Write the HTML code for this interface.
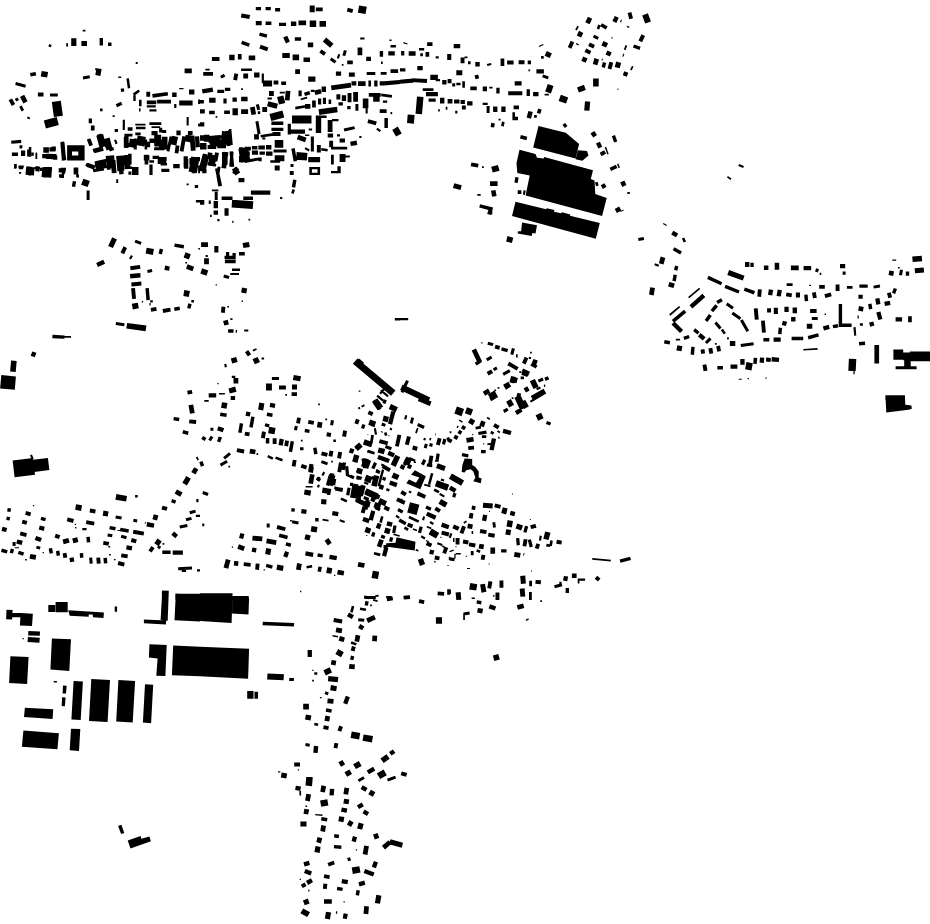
<!DOCTYPE html>
<html><head><meta charset="utf-8">
<style>html,body{margin:0;padding:0;background:#fff}svg{display:block}</style></head>
<body><svg width="930" height="924" viewBox="0 0 930 924"><rect width="930" height="924" fill="#fff"/>
<path fill="#000" d="M419.5 396.7 431.6 401.5 429.8 405.9 417.8 401.1Z
M372.3 401.2 377 398.5 378.6 401.4 373.9 404.1Z
M374.8 405.3 377.3 403.2 381.5 408.2 379 410.2Z
M383.8 399.2 386.8 400.3 385.5 404 382.4 402.9Z
M391 404.1 397.9 407.3 395.6 412.2 388.7 409Z
M361.1 405.9 363.9 404.3 364.9 406 362.1 407.6Z
M357.9 407.8 359.6 406.8 360.5 408.5 358.8 409.4Z
M369.2 410.4 373.5 412.4 371.9 416 367.6 414Z
M391.3 411 395.4 412.1 392.1 424.7 387.9 423.6Z
M383.8 415.6 389 417 387.6 422.3 382.4 420.9Z
M382.2 422.6 385.9 423.9 384.9 426.8 381.2 425.4Z
M390.3 427.6 392.3 428.4 391.6 430.4 389.5 429.7Z
M356 418.7 359.7 420.1 358.1 424.5 354.4 423.2Z
M362.4 423.9 365.5 425 364 429.1 360.9 428Z
M370.2 420.3 374.9 422 374.2 424.1 369.5 422.4Z
M371 424.2 375.1 425.7 374.5 427.3 370.4 425.8Z
M373.8 428.4 375.9 428 377.1 434.4 374.9 434.8Z
M381.1 431.1 383.1 431.9 382.8 432.7 380.8 432Z
M383.9 433 386.4 432.1 387.5 435.2 385 436.1Z
M388.4 435.2 389.5 435.2 389.5 436.3 388.4 436.3Z
M405.3 414.9 407.3 415.5 406.2 419.7 404.1 419.1Z
M411.3 417.3 414 418 412.5 423.9 409.8 423.1Z
M418.3 423 424.8 426 423.4 429 417 425.9Z
M417 427.7 418.6 428.3 416.8 433.4 415.1 432.8Z
M435.2 433.3 435.8 433.3 435.8 435.5 435.2 435.5Z
M397.5 434.4 401.3 435.2 398.8 446.8 395 446Z
M407.1 435.9 410.9 436.9 408.7 445.3 404.9 444.3Z
M413.2 445.5 417.8 446.7 416.7 450.9 412.1 449.6Z
M423.9 437.7 426 438.3 425.4 440.6 423.3 440Z
M429.8 437.8 431.4 438.3 430.8 440.6 429.2 440.1Z
M424.9 443.5 427.8 444.3 426.7 448.5 423.7 447.7Z
M429.8 442.9 432.9 443.8 432.1 446.9 429 446.1Z
M437.8 437.7 441.6 438.7 439.7 445.6 435.9 444.6Z
M443.3 438.6 446.4 439.5 445 444.7 441.9 443.9Z
M446.3 438 449.2 436.9 450.6 441 447.8 442.1Z
M371.2 435 373.4 435.4 372.1 442.9 369.9 442.5Z
M367.4 434.2 368.3 434.2 368.3 435.1 367.4 435.1Z
M364.7 442.1 371.9 444.7 371 447.1 363.9 444.5Z
M358.6 442.9 361.3 444.8 357.6 450.1 354.9 448.3Z
M350.4 447.9 354.5 449.4 352.8 453.8 348.8 452.4Z
M379.9 439.2 388.2 441.4 387.2 445.2 378.9 443Z
M385.9 445 392 447.2 390.9 450.3 384.8 448Z
M378.9 447.4 385.2 449.1 383.8 454.3 377.5 452.6Z
M368.5 449.7 374.6 452 373.7 454.6 367.6 452.4Z
M389.1 450.8 395 453.5 393.2 457.4 387.3 454.7Z
M379 455.1 389.2 458.8 388.1 461.8 377.9 458.1Z
M395.3 454.8 400.2 457.1 395.6 466.9 390.7 464.6Z
M354.4 455.3 358.1 456.4 356.5 462.6 352.7 461.6Z
M361.4 458.7 364 458.3 365.7 467.9 363.1 468.3Z
M368.2 459.5 370.1 460.4 366.5 468.2 364.5 467.3Z
M374.6 462.5 376.8 463.8 374.1 468.5 371.9 467.2Z
M381.6 463.5 384.1 464.4 383.3 466.4 380.9 465.5Z
M383.1 465 390.6 469.3 389.4 471.4 381.9 467Z
M357.4 467.9 362.5 469.8 361 473.8 355.9 472Z
M376.5 469.1 379.6 470.2 378.7 472.7 375.6 471.6Z
M381.9 469.3 384.2 469.9 379.8 486.6 377.5 486Z
M350.8 474.5 354.7 476.4 353.6 478.7 349.7 476.9Z
M357 476.2 360.1 477 359.3 480.1 356.1 479.3Z
M361.5 476.9 362.3 476.9 362.3 477.8 361.5 477.8Z
M366.7 475.7 370.8 477.2 369 482.3 364.9 480.8Z
M372.3 476.1 375.3 477.2 374.2 480.2 371.2 479.1Z
M383.1 476.7 386.2 477.8 385.1 480.9 382 479.8Z
M375.3 482 377.8 482.7 376.7 486.8 374.2 486.2Z
M380.1 484.3 384.2 485.8 382.7 489.9 378.6 488.4Z
M386.8 488.1 389.8 489.2 389 491.6 385.9 490.5Z
M393.7 472.5 399.5 475.2 397.3 480.1 391.4 477.4Z
M390.5 480.5 397.6 483.1 396.1 487.2 389 484.6Z
M406.6 456.5 409.6 457.9 405.9 465.8 403 464.4Z
M409.8 457 415.7 459.7 414.6 462.1 408.7 459.3Z
M413.9 461.5 416 461.5 416 463 413.9 463Z
M401.4 464.2 405.4 466.1 403.5 470 399.6 468.1Z
M408.7 463.8 412.2 465.4 410.4 469.3 406.8 467.7Z
M423.3 459.1 426.2 460.5 423.9 465.4 421 464Z
M429.6 455.5 433.4 456.1 431.7 465.7 427.9 465.1Z
M427.1 463.6 432.5 464.6 432 467.3 426.6 466.4Z
M436.6 453.3 439.8 453.9 438.7 460.3 435.5 459.7Z
M435 460.1 438.7 460.1 438.7 461.7 435 461.7Z
M437.7 463.3 445.8 466.2 444.1 470.9 436 468Z
M414.9 470.3 425.8 476.3 420.3 489.3 406.3 483.3 409 479.5 416 482.8 419.3 477.4 411.1 474.7Z
M430.9 472.9 433.4 473.6 430.3 485.1 427.8 484.4Z
M424.5 483.8 430.7 485.5 430.3 487.2 424 485.5Z
M441.2 478.6 444.4 479.5 443.8 481.6 440.7 480.7Z
M436.6 481.2 448.8 485.7 447.4 489.8 435.1 485.3Z
M434.7 488.6 439.6 490.9 438.5 493.2 433.6 490.9Z
M440.2 492.9 444.9 495.7 443.8 497.5 439.1 494.8Z
M418.3 491.6 426.2 495.3 424.5 498.8 416.7 495.2Z
M402.2 490.3 406.9 493 404.9 496.3 400.3 493.6Z
M409.5 490.4 411.7 491.7 410.6 493.6 408.4 492.3Z
M398.2 498.7 402.5 498.7 402.5 500 398.2 500Z
M353.7 483.5 357.5 484.5 356.1 489.7 352.3 488.7Z
M352.3 489.1 355.5 489.6 354.2 497.1 351 496.5Z
M360.4 485.2 363.5 486.1 361.3 494.4 358.1 493.6Z
M366.5 488.6 370.4 490.5 368.1 495.4 364.2 493.5Z
M371.4 490.6 376.3 492.8 374 497.8 369.1 495.5Z
M375.5 493.2 380.4 495.5 378.6 499.4 373.7 497.1Z
M355.1 494.2 361.2 496.4 360.1 499.5 354 497.3Z
M364.2 496.1 369.3 498 368.3 500.8 363.2 499Z
M350 482.8 353.2 482.8 353.2 486 350 486Z
M364.6 481.6 368.6 483.1 367.9 485.1 363.8 483.6Z
M357.3 498.1 366.2 502.3 364.3 506.2 355.5 502.1Z
M367.5 501.3 370.7 502.1 369.3 507.4 366.1 506.5Z
M362.5 506.1 366.3 507.1 364.6 513.4 360.8 512.4Z
M371.1 511 374.9 512 373.2 518.3 369.5 517.2Z
M363.9 516.9 370 519.1 368.5 523.2 362.4 520.9Z
M380.2 498.1 387 501.3 384.8 506.2 377.9 503Z
M375.8 506 380.7 508.3 379.4 511.3 374.5 509Z
M385.2 505.5 390.1 507.8 388.4 511.4 383.5 509.1Z
M381 516 383.5 516.7 381.8 523 379.3 522.3Z
M377.6 522.7 381.6 524.2 379.8 529.3 375.7 527.8Z
M366.2 526.8 371.3 528.7 369.5 533.8 364.4 531.9Z
M372.5 531.8 375.5 532.9 374.1 537 371 535.9Z
M366.2 535.1 367.3 535.1 367.3 535.9 366.2 535.9Z
M387.4 521.2 392.7 522.6 391.6 526.8 386.3 525.4Z
M385.4 527.5 390.7 528.9 389.3 534.2 384 532.8Z
M393.4 525.2 396.6 525.8 395.3 533.2 392.1 532.7Z
M381.7 534.6 385.4 535.9 384.3 539 380.6 537.7Z
M393.6 533.6 399.9 535.3 399.5 536.7 393.2 535.1Z
M390.1 537 393.3 537.8 392.1 542 389 541.2Z
M379.4 538.9 383.8 540.5 381.2 547.7 376.8 546Z
M383.5 544.9 387.9 544.9 387.9 548.2 383.5 548.2Z
M384.2 547.2 388.4 548.3 386.1 556.7 382 555.6Z
M374.3 551.9 380.6 553.6 379.8 556.3 373.6 554.6Z
M396.5 537.3 415.5 541.7 414.7 550.6 385.7 546.5 386.3 543.3 395.5 542.7Z
M416.1 549 418.7 550 418.1 551.6 415.5 550.7Z
M397.8 497.5 405.6 501.1 404 504.7 396.1 501Z
M410 502.2 419.4 504.7 416.6 515.1 407.2 512.6Z
M398.8 508.1 403.5 510.8 401.9 513.6 397.2 510.9Z
M396.6 514.8 399.8 517 398.6 518.8 395.4 516.5Z
M409.5 515.8 419.3 520.4 418.2 522.7 408.4 518.2Z
M400 518.6 406.6 522.3 405 525.2 398.4 521.4Z
M408.2 522.7 413.3 524.5 411.9 528.2 406.9 526.3Z
M405.1 526.5 408.8 528.6 407.5 530.9 403.8 528.7Z
M413.2 528.2 417.3 529.7 416.7 531.3 412.6 529.8Z
M419.6 526.2 422.8 527 421.1 533.3 417.9 532.5Z
M423.1 516.2 425.1 516.8 424.1 520.6 422 520Z
M421.7 535.3 425.5 537.5 424.4 539.4 420.6 537.2Z
M426.1 539.9 429.1 541.3 428.6 542.3 425.7 540.9Z
M427.4 541.5 432.3 543.8 430.6 547.3 425.7 545Z
M426.7 505.5 431.6 507.8 430.2 510.7 425.3 508.4Z
M436.3 506.7 441 509.4 439 512.8 434.3 510.1Z
M441.1 499 447.7 502.8 445 507.5 438.4 503.7Z
M427.7 511.7 436.5 515.8 434.7 519.7 425.8 515.6Z
M430.6 521 434 523 432.8 525.1 429.4 523.1Z
M427.1 526 431.5 527.6 430.9 529.2 426.5 527.6Z
M431.7 528.6 439.2 532.9 436 538.5 428.5 534.2Z
M442.4 522.6 449.5 525.2 448.1 529.3 440.9 526.7Z
M442.1 530.7 449.4 532.6 448.4 536.4 441.1 534.5Z
M440.4 536.8 441.5 536.8 441.5 537.9 440.4 537.9Z
M437.7 542.2 442.7 544.1 442 546.1 436.9 544.2Z
M444.5 546.6 448.2 547.9 446 554 442.3 552.7Z
M442.7 545.3 446.4 547.5 445.7 548.8 441.9 546.7Z
M430.2 549.5 434.4 550.6 433.2 554.8 429.1 553.7Z
M435.1 555.6 439.8 556.4 439.1 560.2 434.4 559.4Z
M434.2 561.1 435.7 561.1 435.7 562.4 434.2 562.4Z
M448.8 556.8 450.3 556.8 450.3 560.1 448.8 560.1Z
M447.4 564.9 448.7 564.9 448.7 566 447.4 566Z
M417.8 559.8 422.9 557.9 425.1 564 420 565.9Z
M437.8 591.4 444.3 592 444 595.8 437.5 595.3Z
M447.2 589.3 450 589.3 450 594.7 447.2 594.7Z
M403.4 595.7 409.9 595.2 410.2 599.1 403.8 599.6Z
M375.3 595.3 378.5 594.8 378.8 596.2 375.6 596.8Z
M506.1 401.8 510.8 399.1 514 404.7 509.3 407.4Z
M502.9 410.1 507 407.7 508.6 410.5 504.5 412.9Z
M520.4 402.4 525.1 399.7 528.9 406.3 524.2 409Z
M514.8 411.1 520.5 407.9 522.6 411.6 517 414.9Z
M529.8 400.7 533.6 398.5 534.7 400.4 530.9 402.6Z
M535.6 415.3 541.1 412.7 543.6 418.2 538.1 420.8Z
M547 421 551.1 422.5 550 425.5 545.9 424.1Z
M456.9 406.5 464.1 409.1 461.5 416.2 454.3 413.6Z
M467 407.2 473.1 409.4 470.9 415.5 464.8 413.3Z
M459.5 419.5 462.9 421.4 462.1 422.7 458.8 420.8Z
M487.6 416.8 490.2 418.6 489.3 420 486.6 418.2Z
M470.7 417.9 475.3 420.7 472.6 425.3 467.9 422.6Z
M481.2 420.5 485.6 422.1 483.8 427.2 479.3 425.5Z
M475.4 426.7 480.8 425.7 481.3 428.5 475.9 429.5Z
M495 423.3 499.6 426 497.7 429.3 493 426.6Z
M462.8 424.9 466.2 426.9 464.2 430.3 460.9 428.3Z
M457.5 425.5 458.8 426.3 457.7 428.2 456.4 427.4Z
M459.4 429.7 462.4 431.4 460.5 434.8 457.5 433.1Z
M455.2 434.7 458.6 436.6 456.7 440 453.3 438.1Z
M449.7 431.2 451.4 431.2 451.4 433.3 449.7 433.3Z
M450.4 438.6 452.6 439.9 450.7 443.2 448.4 441.9Z
M478.1 431.9 486.2 430.5 486.8 433.7 478.7 435.1Z
M481.9 435.2 486.3 435.2 486.3 438 481.9 438Z
M491.5 430.8 494.3 432.4 492.9 434.8 490.1 433.2Z
M497.9 430.3 500.4 431.7 499.5 433.2 497 431.8Z
M497.9 436.9 499.2 436.4 499.9 438.5 498.7 438.9Z
M503.6 428.8 511.6 430.9 510.4 435.1 502.5 433Z
M466.1 438.1 473.1 436.9 474 441.6 466.9 442.8Z
M472.2 434 473.3 434 473.3 435.3 472.2 435.3Z
M468 446.3 473.8 445.7 474.2 449.6 468.4 450.1Z
M483.2 443.3 484.3 443.3 484.3 444.4 483.2 444.4Z
M491.9 438.1 496.1 439 493.6 450.6 489.4 449.7Z
M487.2 443.6 494.7 442.3 495 444 487.5 445.3Z
M481 450 485.7 450 485.7 453.2 481 453.2Z
M462.2 453 468.6 454.2 468.1 457.4 461.7 456.2Z
M464.6 458.4 472.2 459 472.2 464.9 475.4 467.1 478.7 471.4 478.7 477.4 481.6 478.5 480.8 483.3 473.3 481.2 475.4 477.4 473.3 471.4 470.6 469.3 466.2 470.3 464.6 472.5 461.7 472 462.4 464.9Z
M451.9 473.4 464.1 480.4 461.1 485.7 448.9 478.7Z
M451 485.8 456.6 489 454.4 492.8 448.8 489.5Z
M453.5 492.6 456.6 493.8 455.1 497.8 452.1 496.7Z
M511.9 493.4 513 493.4 513 494.5 511.9 494.5Z
M472.1 505.6 475.7 506.2 475.1 510 471.4 509.4Z
M483.2 502.7 492.9 503.6 492.5 508.5 482.8 507.7Z
M495.2 503.5 501.1 505.1 500 508.8 494.2 507.3Z
M502.8 507.3 507.6 508.5 506.1 514.4 501.2 513.1Z
M510.8 510.8 515.4 512.1 514.3 516.2 509.7 515Z
M489 510.8 490 510.8 490 511.9 489 511.9Z
M469.7 512.7 473.5 513.4 472.6 518.7 468.7 518Z
M483 514.5 487.3 515.2 486.2 521.2 482 520.5Z
M463.3 522.2 466.1 520.6 467 522.1 464.2 523.7Z
M468 523.5 472.9 524.4 472.1 529.1 467.2 528.2Z
M492.3 522.5 495.1 522 496 527.3 493.2 527.8Z
M507.6 520.1 513 521.1 511.8 527.5 506.5 526.5Z
M454.1 524.4 459.6 526.9 457.8 530.8 452.3 528.3Z
M462.2 525.5 465.9 526.9 463.3 534 459.6 532.7Z
M471.6 531.1 473.2 531.1 473.2 533.9 471.6 533.9Z
M480.4 529.1 486.8 530.2 486.1 534.1 479.7 533Z
M488.6 532.7 495 533.8 494.3 537.7 487.9 536.5Z
M506.2 529.2 511.1 530 510.2 535.3 505.3 534.5Z
M517.3 523.5 523 525.6 521.2 530.6 515.5 528.6Z
M525 525.7 528.2 526.5 526.5 532.8 523.3 531.9Z
M530.2 525.3 535.4 523.9 536.5 527.7 531.2 529.1Z
M529.8 518.9 530.8 518.9 530.8 520 529.8 520Z
M545.2 531.4 550.5 532.8 548.5 540.1 543.3 538.7Z
M539.7 535.6 541.9 535.9 541 540.8 538.9 540.5Z
M546.6 543.8 550.4 544.5 550 547.1 546.1 546.4Z
M536.5 543.3 540.1 544.6 538.4 549.3 534.8 548Z
M516 538.3 519.3 538 519.9 545.1 516.7 545.4Z
M523.7 538.9 527.5 539.6 526.3 546.6 522.5 545.9Z
M527.8 540.1 530.9 539.2 532.9 546.5 529.7 547.4Z
M450.3 533.1 452.4 533.8 450.7 538.3 448.7 537.6Z
M453 538.1 454.5 538.1 454.5 542 453 542Z
M455.6 537.9 459.5 537.9 459.5 544.4 455.6 544.4Z
M455.4 546.2 456.5 546.2 456.5 547.3 455.4 547.3Z
M463.4 539.6 468.7 540.5 468 544.4 462.7 543.4Z
M469.3 542.4 475.7 543.6 475 547.4 468.7 546.3Z
M479.5 543.8 484.1 544.6 483.3 549.3 478.6 548.5Z
M490.4 547.6 495.1 547.6 495.1 553.7 490.4 553.7Z
M501.1 549.2 506.5 549.2 506.5 552.5 501.1 552.5Z
M514.7 552 520.7 553.1 519.9 557.7 513.9 556.7Z
M523.7 553 524.6 553.2 523.9 555.7 523.1 555.5Z
M449.3 550.9 453.4 549.4 453.9 550.8 449.8 552.3Z
M455.6 553 460.8 553 460.8 554.5 455.6 554.5Z
M454.3 554.1 455.6 554.1 455.6 558.4 454.3 558.4Z
M450 557.3 454.9 558.1 454.3 561.3 449.4 560.5Z
M470.8 550.9 473.6 550.9 473.6 555.2 470.8 555.2Z
M477 549.2 480.6 550.5 479.7 553 476.1 551.6Z
M465.7 555.8 467 555.8 467 556.7 465.7 556.7Z
M481.5 554.6 485.4 555.2 484.5 560.1 480.7 559.5Z
M488.6 563.5 489.7 563.5 489.7 564.6 488.6 564.6Z
M467 567.9 470 567.9 470 569 467 569Z
M531 570.6 532 570.6 532 571.6 531 571.6Z
M520.2 575.9 525.2 575.4 525.9 583.6 520.9 584.1Z
M529.2 580.8 532 580.8 532 586.3 529.2 586.3Z
M535.7 579.9 541.1 580.3 540.7 584.2 535.3 583.7Z
M519.7 588.7 524.6 588.2 525.3 596.4 520.4 596.8Z
M529 592 531.8 592 531.8 600 529 600Z
M470.3 583 477.3 584.2 476.2 590.6 469.2 589.4Z
M480.1 584.6 485 583.7 486.4 591.8 481.5 592.7Z
M488.5 581.1 492.4 581.8 491.1 588.8 487.3 588.1Z
M499.5 580.6 503.4 580.6 503.4 587.8 499.5 587.8Z
M455.6 592.5 460.6 592.1 461.3 599.7 456.3 600.1Z
M449.8 589.6 450.9 589.6 450.9 593.9 449.8 593.9Z
M471.6 597.4 474.9 597.4 474.9 599.1 471.6 599.1Z
M495.5 592.5 499.4 592.5 499.4 600.1 495.5 600.1Z
M493.3 594.7 494.4 594.7 494.4 596.9 493.3 596.9Z
M538.5 125.9 565.8 132.7 579.1 144.1 575.6 158.5 533.2 147.6Z
M577.9 150.2 587 150.9 588.5 155.5 582.4 160.8 575.6 159.2Z
M519.5 149.7 535.5 153.9 537 157.7 543.8 158.5 544.2 157 593 170.3 590.8 178.9 594.5 180.5 595.3 194.1 606.7 197.9 602.1 216.1 525.6 195.6 529.7 175.5 517.3 172.9 516.5 163Z
M515.5 201.7 546.1 209.2 546.8 208.2 554.4 210 553.9 211.8 561.2 213.3 562 212.3 570.3 214.5 570 215.8 599.8 222.9 595.8 238.8 512 216.1Z
M522.1 222.4 537 225.2 535.5 233.5 532.4 233 531.7 236.1 517.6 233.5 518 231.2 521.1 231.2Z
M507.5 236.1 513.3 237.7 511.9 243 506.1 241.4Z
M515.3 177 518.6 177.6 517.7 183 514.4 182.4Z
M517.7 190.3 521.4 190.3 521.4 193.9 517.7 193.9Z
M523.6 190.2 525.7 190.5 524.9 195 522.8 194.6Z
M520.9 135 527.3 136.7 526.4 140.2 519.9 138.5Z
M562.5 124.8 565.2 122.9 567.5 126.1 564.8 128Z
M590.5 133.6 594.3 131 597 134.9 593.3 137.5Z
M596 143.6 599.9 141.8 602.2 146.7 598.3 148.5Z
M599.7 152.8 604.1 150.2 606.1 153.6 601.6 156.2Z
M604.7 147.3 606.1 146.8 608.7 153.9 607.3 154.4Z
M611.8 136.2 615 135.1 617.3 141.4 614.1 142.5Z
M609.6 167.7 615.9 164.8 617.4 168.1 611.1 171Z
M617 163.9 618.4 163.4 620 167.6 618.6 168.2Z
M595 182.4 597.6 181.7 598.6 185.5 596 186.2Z
M600.7 185.3 604.4 183.2 606.5 186.8 602.9 189Z
M620.2 182.6 624.4 180.6 626.4 185 622.3 186.9Z
M627.4 192 629.8 192 629.8 194.1 627.4 194.1Z
M614.7 209 619.1 206.4 621.4 210.4 616.9 213Z
M620.3 211.3 623.5 209.5 623.9 210.2 620.8 212.1Z
M491.2 166.8 497.9 165 499.5 170.8 492.7 172.6Z
M490 181.2 497.6 181.2 497.6 186.1 490 186.1Z
M491 190.7 495.5 190 496.6 195.9 492.1 196.7Z
M490 208.2 492.3 208.2 492.3 214.5 490 214.5Z
M491.3 122.7 494.9 123.4 494.1 127.6 490.6 126.9Z
M501.9 121.5 504.6 121.9 503.8 126.4 501.1 125.9Z
M512.4 112.3 515 112.3 515 119.8 512.4 119.8Z
M512.4 116.8 518 116.8 518 120.3 512.4 120.3Z
M528.4 110.9 532.8 112.1 531 118.8 526.6 117.6Z
M534.1 115 536.8 115 536.8 117.7 534.1 117.7Z
M538.3 108.5 541.7 109.7 540.2 114 536.8 112.7Z
M21 150.5 25.2 150.5 25.2 156.1 21 156.1Z
M28.8 147 31.3 147 31.3 156.8 28.8 156.8Z
M35.4 153.3 37.3 153.3 37.3 158.9 35.4 158.9Z
M19.6 145.2 22.4 145.2 22.4 148 19.6 148Z
M43.3 147.3 48.9 147.3 48.9 152.8 43.3 152.8Z
M51.7 146.6 55.9 146.6 55.9 150.8 51.7 150.8Z
M46.1 153.8 51.7 153.8 51.7 158.9 46.1 158.9Z
M53.1 155.6 57.3 155.6 57.3 159.8 53.1 159.8Z
M60.3 142.6 64.5 142.2 66.1 160.3 61.9 160.7Z
M67.1 145.2 84.6 145.2 84.6 151.5 67.1 151.5Z
M67.1 155.6 84.6 155.6 84.6 160.5 67.1 160.5Z
M67.1 145.2 72 145.2 72 160.5 67.1 160.5Z
M78.3 145.2 84.6 145.2 84.6 160.5 78.3 160.5Z
M96.3 135.8 103.1 134 106.3 146.1 99.6 147.9Z
M104.2 139.1 109.6 137.6 112.5 148.4 107.1 149.9Z
M93.3 149.3 102.7 146.8 103.8 150.8 94.4 153.3Z
M87.4 139.7 90.5 138.5 92.9 145.1 89.8 146.2Z
M14 164 16.8 164 16.8 168.2 14 168.2Z
M18.9 167.2 23.1 167.2 23.1 169.2 18.9 169.2Z
M26.2 166.5 34.6 167.2 33.9 175.6 25.5 174.8Z
M36.1 166.1 40.2 166.8 39.4 171.8 35.2 171Z
M42.4 167.1 52.1 168 51.3 177.7 41.5 176.9Z
M58.7 168.2 65.7 168.2 65.7 172.4 58.7 172.4Z
M59 174.2 64 174.2 64 177.6 59 177.6Z
M74.1 167.5 78.3 167.5 78.3 174.5 74.1 174.5Z
M76.2 174.8 79 174.8 79 177.6 76.2 177.6Z
M87.6 162.7 95.5 165.6 94.1 169.5 86.2 166.7Z
M94.4 161.6 105.4 159.6 106.9 167.9 95.9 169.8Z
M105.7 156 114.1 155.3 115.2 167.8 106.8 168.6Z
M116.1 156 123 155.4 124.4 170.7 117.4 171.3Z
M124.4 154.9 130 154.9 130 168.9 124.4 168.9Z
M124.4 134 128.6 134 128.6 148 124.4 148Z
M129.9 138.4 135.4 139.4 133.9 147.7 128.4 146.7Z
M137.7 135.4 145.9 136.9 144.2 146.5 136 145.1Z
M145.9 141.7 150.1 141.7 150.1 147.3 145.9 147.3Z
M154.2 134.7 161.2 134.7 161.2 145.9 154.2 145.9Z
M161.9 136.8 167.5 136.8 167.5 149.4 161.9 149.4Z
M203.9 134.7 209.5 134.7 209.5 141.7 203.9 141.7Z
M209 135.9 220.1 134.9 221.1 146 210 147Z
M222 131 227.5 131.5 226.3 145.4 220.7 144.9Z
M228.1 130 231.4 129.7 232.8 145 229.4 145.3Z
M120.7 155.6 130.5 155.6 130.5 165.4 120.7 165.4Z
M143.8 154.9 149.4 154.9 149.4 160.5 143.8 160.5Z
M157.7 157 166.1 157 166.1 164 157.7 164Z
M183.6 156.3 187.8 156.3 187.8 167.5 183.6 167.5Z
M191.3 156.4 199.5 157.9 196.9 173 188.6 171.6Z
M202.7 154.3 209.4 156.1 205.1 172.3 198.3 170.5Z
M209.8 154.4 216.7 155.6 214.7 166.6 207.8 165.4Z
M215 168.8 218.3 168.1 222.1 185.8 218.8 186.5Z
M222 152.1 227.6 152.1 227.6 164.7 222 164.7Z
M229.5 151.6 232.8 151.3 234.2 166.7 230.8 166.9Z
M231.9 169.4 236.7 166.6 240.2 172.6 235.3 175.4Z
M238.4 148.9 248 147.2 250.4 161 240.8 162.7Z
M339 462.2 342.8 462.9 341.1 472.5 337.3 471.8Z
M342.9 462.2 346.1 462.8 344.8 470.3 341.6 469.7Z
M345.1 466.4 348.3 466.1 349.1 475.8 345.9 476.1Z
M347.5 473.8 354.3 477 353.2 479.3 346.4 476.1Z
M323.3 471.6 325.2 472.7 323.3 476.1 321.4 475Z
M317.4 476.8 321.1 478.9 319.5 481.7 315.7 479.6Z
M328.4 475.7 331.5 476.6 329 486 325.9 485.1Z
M333.1 478.5 336.3 479 335.1 485.4 332 484.9Z
M330.1 472.9 334.4 473.7 333.8 476.9 329.5 476.1Z
M335.6 486.7 343.1 488 342.4 491.9 334.9 490.6Z
M347.5 487.5 350.7 488 349.3 495.5 346.1 494.9Z
M317.9 484.4 319.9 485.1 319 487.8 316.9 487Z
M327.1 491.7 330.3 491.7 330.3 494.9 327.1 494.9Z
M354.4 483.8 358.6 484.6 357.1 493.1 352.9 492.3Z
M361.6 484.8 365.7 485.9 362.9 496.4 358.8 495.3Z
M356.6 497.4 365.4 501.5 363.6 505.4 354.8 501.3Z
M366.9 489.2 374.4 493.5 372.8 496.3 365.3 492Z
M374.3 491.8 378.2 493.6 374.1 502.4 370.1 500.6Z
M365.7 499.4 369.9 500.5 367.4 509.9 363.2 508.8Z
M371.2 510.2 375.3 511.4 372.8 520.8 368.6 519.6Z
M363.7 516.9 368.8 518.7 367.3 522.8 362.2 520.9Z
M375.3 502.1 381.4 504.3 379.5 509.4 373.4 507.2Z
M354.2 446.8 359.2 442.6 362.7 446.8 357.7 450.9Z
M364.8 441.8 372.2 443.1 371.7 446.3 364.2 445Z
M371.5 434.7 374 435.2 372.5 443.7 370 443.2Z
M367.6 450 374.9 451.9 374.2 454.4 366.9 452.5Z
M354.1 454.3 359.4 455.7 357.4 463 352.2 461.6Z
M364 458.2 371.1 460.8 368.1 468.9 361 466.3Z
M374.1 462.1 377 463.5 374.3 469.3 371.3 468Z
M357.6 467.8 362.9 469.2 361.5 474.4 356.2 473Z
M356.8 475.4 362 476.8 361.2 479.9 356 478.5Z
M366 475.4 370.1 476.9 368.2 482 364.2 480.5Z
M374 474.9 379.3 476.3 376.5 486.8 371.2 485.4Z
M376.5 469.4 380.5 470.9 379.4 473.9 375.4 472.5Z
M309.4 463.8 313.6 464.5 312.3 472 308.1 471.2Z
M372.1 402.2 377.5 398.5 383.1 406.5 377.7 410.2Z
M370.1 419.6 376.2 421.8 374.3 426.9 368.2 424.7Z
M364.7 439.3 372.9 442.2 371 447.3 362.9 444.4Z
M378.7 454.9 389.9 459 388.4 463.1 377.2 459Z
M363.7 457.9 368.9 459.3 366.6 467.7 361.4 466.3Z
M383.5 464.3 391 468.7 389 472 381.5 467.7Z
M366.5 474.8 372.6 477.1 370.3 483.2 364.2 480.9Z
M405.8 457.4 411.7 460.1 408.9 466 403 463.3Z
M437 480.2 449.2 484.7 447 490.8 434.8 486.3Z
M352.3 484.7 363 486.5 360.7 499.3 350 497.4Z
M367.1 488.5 378.9 494 376.2 499.8 364.4 494.4Z
M514.4 397.8 520.4 395 526.2 407.3 520.2 410.2Z
M512 376.4 517.9 378 516.5 383.3 510.6 381.7Z
M523.1 368.6 530 371.8 528.1 375.9 521.2 372.7Z
M532.2 362.4 537.5 365.4 535.7 368.5 530.4 365.5Z
M487.9 394.4 494.4 390.6 498.2 397.1 491.6 400.9Z
M82.7 29.7 85.5 29.7 85.5 31.6 82.7 31.6Z
M49.2 44 51.7 44.9 50.8 47.3 48.3 46.4Z
M66.2 43.3 68 43.3 68 46.5 66.2 46.5Z
M71.2 38.3 76.4 38.3 76.4 46.1 71.2 46.1Z
M81.4 41.1 87 41.1 87 46.1 81.4 46.1Z
M99.6 37.9 103 37.9 103 45.5 99.6 45.5Z
M108 42.6 111.5 42.6 111.5 45.9 108 45.9Z
M135.7 62.1 137.7 62.1 137.7 64.1 135.7 64.1Z
M184.6 68.6 191.8 68.6 191.8 73.2 184.6 73.2Z
M30 73 35.6 72 36.2 75.5 30.6 76.4Z
M41.7 70.9 48.1 72 47.1 77.6 40.7 76.4Z
M82.7 76.4 89.5 75.2 90 78.2 83.2 79.4Z
M96.5 68.2 101.6 69.1 100.4 75.9 95.3 75Z
M95.2 68.2 97.4 68.2 97.4 70.3 95.2 70.3Z
M15.9 82 26 84.7 25.2 87.7 15.2 85Z
M118.2 76.6 121.2 76.6 121.2 78.1 118.2 78.1Z
M126.4 78.6 128.9 78.2 130.3 88.1 127.8 88.4Z
M120.6 88.7 123.8 88.2 124.4 91.4 121.2 91.9Z
M37.9 92.4 43.5 92.4 43.5 96.5 37.9 96.5Z
M50 93.5 57.8 93.5 57.8 96.5 50 96.5Z
M8.6 100.3 12 98.4 15.2 104 11.8 106Z
M14.8 99 17.4 97.5 19 100.1 16.3 101.6Z
M20 97 24.2 94.8 27.6 101.3 23.4 103.5Z
M19.2 106.8 21.7 105.5 24.1 110.1 21.6 111.4Z
M27.8 116.4 30.3 117.8 29.3 119.5 26.9 118.1Z
M51.8 102 60.8 100.7 62.9 115.7 53.9 117Z
M43.8 120.5 56.7 117 58.8 125 45.9 128.4Z
M100 108.4 102.6 108.4 102.6 111.3 100 111.3Z
M115.7 104.3 121 101.8 122.4 104.8 117.1 107.3Z
M88.7 118.4 92 118.4 92 123.2 88.7 123.2Z
M90.9 125.5 94.6 125.5 94.6 130.5 90.9 130.5Z
M114.7 129 118 129 118 132 114.7 132Z
M112.6 115.2 114.7 115.2 114.7 117.1 112.6 117.1Z
M132.8 93.6 138.5 89.6 139.9 91.7 134.3 95.7Z
M133.3 95.2 135.7 95.2 135.7 100.9 133.3 100.9Z
M146.3 91.8 150.2 91.8 150.2 96.8 146.3 96.8Z
M152.2 94.1 167.6 91.9 168.1 95.5 152.7 97.7Z
M172.1 92.6 176.6 92.6 176.6 97 172.1 97Z
M179.2 87.9 183.5 87.9 183.5 89.2 179.2 89.2Z
M189 89.6 194.4 89.6 194.4 94.4 189 94.4Z
M139 99.8 141.6 99.8 141.6 106.3 139 106.3Z
M146.8 100.6 156.3 100.6 156.3 104.3 146.8 104.3Z
M157.1 99.8 171 99.8 171 103.5 157.1 103.5Z
M146.8 105.2 155.8 105.2 155.8 107.6 146.8 107.6Z
M149.4 109.3 156.5 109.3 156.5 111.5 149.4 111.5Z
M174.2 104.1 176.4 104.1 176.4 108 174.2 108Z
M179.2 100.6 192.6 100.6 192.6 105.4 179.2 105.4Z
M198.1 99.6 200 99.6 200 104.1 198.1 104.1Z
M139 108.2 140.5 108.2 140.5 111.5 139 111.5Z
M186.6 116.9 188.7 116.9 188.7 125.5 186.6 125.5Z
M198.1 123.4 200 123.4 200 126.6 198.1 126.6Z
M122.7 119.7 124.9 119.7 124.9 129.9 122.7 129.9Z
M127.7 127.3 132.5 127.3 132.5 130.7 127.7 130.7Z
M135.3 123.8 145.5 123.8 145.5 125.5 135.3 125.5Z
M135.9 126.8 145.5 126.8 145.5 129.2 135.9 129.2Z
M149.4 122.3 161.3 122.3 161.3 125.1 149.4 125.1Z
M151.5 126.2 160.2 126.2 160.2 128.1 151.5 128.1Z
M159.1 127.7 162.3 127.7 162.3 132.5 159.1 132.5Z
M161.9 129.9 166.2 129.9 166.2 132.9 161.9 132.9Z
M151.5 131 157.6 131 157.6 135.3 151.5 135.3Z
M176.4 130.5 180.7 130.5 180.7 135.3 176.4 135.3Z
M187.9 131 192.6 131 192.6 135.3 187.9 135.3Z
M124.5 133.8 132.5 133.8 132.5 136.4 124.5 136.4Z
M135.3 132.5 140.7 132.5 140.7 135.3 135.3 135.3Z
M123.8 136.8 126 136.8 126 147.6 123.8 147.6Z
M126.6 142.9 132 142.9 132 145.5 126.6 145.5Z
M133.8 138.5 136.8 138.5 136.8 149.4 133.8 149.4Z
M138.5 141.8 143.9 141.8 143.9 144.6 138.5 144.6Z
M144.6 139.6 147.2 139.6 147.2 149.4 144.6 149.4Z
M149.4 138.5 154.1 138.5 154.1 142.9 149.4 142.9Z
M154.1 139.6 164.5 139.6 164.5 142.9 154.1 142.9Z
M154.8 143.9 164.5 143.9 164.5 146.5 154.8 146.5Z
M154.1 147.2 164.5 147.2 164.5 150.2 154.1 150.2Z
M159.1 141.8 162.3 141.8 162.3 149.8 159.1 149.8Z
M169.6 136.2 172.5 136.8 169.4 151.7 166.4 151Z
M172.2 135.8 178.1 137.1 176.3 145.6 170.4 144.3Z
M175.7 145.2 179.5 145.8 178.4 153.5 174.6 152.9Z
M182.3 136.1 186.1 136.8 183.5 151.7 179.7 151.1Z
M185.7 134.8 191.2 135.8 190.1 142.2 184.5 141.2Z
M189.6 136 194.4 135.5 195.7 150.6 190.9 151Z
M194.8 136.6 199.1 136.2 200 147 195.7 147.4Z
M11.1 140.7 21.1 139.8 21.3 142.9 11.4 143.7Z
M19.5 146.1 21.9 146.1 21.9 148.5 19.5 148.5Z
M11.9 152.6 18 152.6 18 156.1 11.9 156.1Z
M21.9 151.9 23.8 151.9 23.8 155.4 21.9 155.4Z
M27.1 149.4 29.4 149.4 29.4 156.5 27.1 156.5Z
M31.4 152.6 33.8 152.6 33.8 155.8 31.4 155.8Z
M35.7 152.6 37 152.6 37 157.1 35.7 157.1Z
M45 148.1 48.1 148.1 48.1 150.6 45 150.6Z
M49.4 147.2 55.4 147.2 55.4 151.5 49.4 151.5Z
M42.2 154.1 47.4 154.1 47.4 158.2 42.2 158.2Z
M50.9 154.1 56.5 154.1 56.5 159.3 50.9 159.3Z
M60.6 142.1 64 141.6 66.3 160.1 62.8 160.5Z
M67.5 145.5 84 145.5 84 148.3 67.5 148.3Z
M67.5 145.5 70.3 145.5 70.3 159.3 67.5 159.3Z
M81.4 145.5 84 145.5 84 159.3 81.4 159.3Z
M68.8 156.3 84 156.3 84 159.3 68.8 159.3Z
M86.8 139.5 89.6 138.4 92 144.9 89.2 146Z
M97.1 134.7 101.3 133.6 104.2 144.5 100 145.6Z
M92.6 148.9 101.3 146.5 102.2 149.8 93.5 152.2Z
M102.7 140 106.4 138.6 110.2 149.2 106.6 150.5Z
M108.7 148.7 113.2 147.1 114.2 150 109.8 151.6Z
M114 140.1 116.1 139.4 117.6 143.4 115.5 144.2Z
M14.1 164.5 16.2 164.5 16.2 168.8 14.1 168.8Z
M18.4 165.6 23.8 165.6 23.8 167.7 18.4 167.7Z
M19 172.1 21.2 172.1 21.2 173.8 19 173.8Z
M27.6 166.3 32.3 167.1 30.8 175.7 26.1 174.8Z
M34.6 166.7 39 166.7 39 169.3 34.6 169.3Z
M40 167.7 43.3 167.7 43.3 171 40 171Z
M44.4 167.1 51.9 167.1 51.9 169.3 44.4 169.3Z
M45.9 170.6 50.9 170.6 50.9 173.2 45.9 173.2Z
M42.9 174.2 48.7 174.2 48.7 177.5 42.9 177.5Z
M60.6 167.7 66 167.7 66 169.9 60.6 169.9Z
M61.7 172.1 64.9 172.1 64.9 174.2 61.7 174.2Z
M60.2 175.8 63.9 175.8 63.9 177.9 60.2 177.9Z
M73.6 167.7 76.8 167.7 76.8 174.2 73.6 174.2Z
M76.2 174.2 78.4 174.2 78.4 177.1 76.2 177.1Z
M86.5 163 94.4 166.7 93.1 169.4 85.3 165.8Z
M95.1 161.3 107.8 158.6 108.4 161.2 95.7 163.9Z
M92.9 169.4 103.6 167.5 104.1 170.5 93.4 172.3Z
M105.8 159.4 109.2 158.9 110.7 169.6 107.3 170.1Z
M110.7 160.4 115.4 160 116.6 172.9 111.8 173.3Z
M116.6 156 120.5 155.7 121.5 166.5 117.6 166.8Z
M122.6 156 125.6 155.7 126.3 164.4 123.3 164.6Z
M128.1 153.7 131.6 153.7 131.6 164.5 128.1 164.5Z
M118.8 167.9 123.1 167.6 123.7 174 119.3 174.4Z
M125.4 166.7 131.9 166.2 132.1 168.8 125.7 169.3Z
M132 167.1 138.5 167.1 138.5 174.9 132 174.9Z
M128.4 171.6 131.4 171.6 131.4 174.7 128.4 174.7Z
M144.6 154.8 148.3 154.8 148.3 164.5 144.6 164.5Z
M149.4 160.2 154.1 160.2 154.1 162.8 149.4 162.8Z
M149.4 164.5 152.6 164.5 152.6 174.9 149.4 174.9Z
M152.6 155.8 159.1 155.8 159.1 159.1 152.6 159.1Z
M160.2 156.9 166.7 156.9 166.7 161.3 160.2 161.3Z
M160.6 162.8 167.1 162.8 167.1 165.6 160.6 165.6Z
M161.3 168.8 169.3 168.8 169.3 172.1 161.3 172.1Z
M173.2 163.9 179.7 163.9 179.7 168.2 173.2 168.2Z
M184 159.1 188.3 159.1 188.3 168.8 184 168.8Z
M189.4 158 193.7 158 193.7 164.5 189.4 164.5Z
M191.6 164.5 195.9 164.5 195.9 173.2 191.6 173.2Z
M194.8 156.9 200 156.9 200 161.3 194.8 161.3Z
M198.1 165.6 200 165.6 200 173.2 198.1 173.2Z
M72.8 180.9 76.2 181.5 75.2 187.1 71.8 186.5Z
M83.4 178.7 89.9 181 87.6 187.1 81.1 184.8Z
M86.6 190.5 89.6 190.5 89.6 200 86.6 200Z
M116.2 179.2 118.2 179.2 118.2 182.9 116.2 182.9Z
M186.6 183.5 188.7 183.5 188.7 185.3 186.6 185.3Z
M194.8 185.1 198.1 185.1 198.1 187.9 194.8 187.9Z
M112.2 237.2 116.9 239.4 112.9 248.1 108.2 245.9Z
M123.5 246.3 127 247.9 124.1 254.2 120.6 252.5Z
M131 255.1 132.9 256.2 130.9 259.6 129 258.5Z
M96.2 263.1 103.3 259.8 105.1 263.7 98 267Z
M135.6 239.7 141.7 241.9 140.6 244.7 134.5 242.5Z
M146.7 247.7 153.9 249 152.9 254.9 145.6 253.6Z
M159.8 248.6 163.2 249.5 161.8 254.5 158.5 253.6Z
M174.8 243.4 184.2 245 183.6 248.4 174.2 246.8Z
M185.5 252.2 190.8 254.2 188.9 259.5 183.6 257.5Z
M187.6 264.3 194.1 266.7 192.5 271.2 186 268.8Z
M185.3 261.9 187 261.9 187 263.6 185.3 263.6Z
M165.1 265.6 169.8 266.5 169.1 270.7 164.4 269.9Z
M147.2 269.9 151.9 269.1 152.4 272.1 147.7 272.9Z
M130.1 266.3 139.9 264.9 140.5 268.8 130.6 270.2Z
M129.9 274.1 140.3 273.1 140.6 277.5 130.3 278.4Z
M131.2 282.5 141.2 281.6 141.5 285.5 131.6 286.4Z
M131.1 288.3 135 287.9 136 298.7 132.1 299.1Z
M145.4 288.3 148.8 288 149.9 300 146.4 300.3Z
M131.8 303.8 137.8 302.8 138.8 308.3 132.8 309.4Z
M150.2 300.2 152.8 300.2 152.8 302.4 150.2 302.4Z
M149.4 303 150.6 303 150.6 305.6 149.4 305.6Z
M150.6 307.9 156.1 306.9 156.8 310.7 151.2 311.7Z
M162.5 309.1 170.2 307.8 170.8 311.6 163.2 313Z
M174 307.4 179.5 306.5 180.1 309.9 174.6 310.9Z
M188.3 303.3 191.7 304.2 190.5 308.8 187.1 307.9Z
M191.3 300 193.9 300 193.9 302.6 191.3 302.6Z
M184.3 290 189.9 291 188.8 297 183.3 296Z
M141.8 301.1 143.1 301.1 143.1 302.4 141.8 302.4Z
M116.1 322.1 124.6 323.3 124.2 326.3 115.6 325.1Z
M127.1 322.9 146.4 325.6 145.6 331.2 126.3 328.5Z
M52.5 334.8 64.6 335.4 64.4 338.8 52.3 338.2Z
M63.9 335.9 71 335.9 71 337.7 63.9 337.7Z
M32.3 351.4 36.4 352.8 34.8 357.3 30.7 355.8Z
M11.1 360.4 16.7 360.9 15.7 372.1 10.1 371.6Z
M1.3 375.1 15.9 376.4 14.8 389.8 0.1 388.5Z
M187.1 390.7 191.8 389.9 192.5 393.7 187.8 394.5Z
M198.3 248.1 200 248.1 200 249.4 198.3 249.4Z
M195.9 200 200 200 200 202.6 195.9 202.6Z
M188.5 405.2 193.2 404.4 194.7 412.9 190 413.8Z
M173.9 416.9 179.5 417.8 178.9 421.2 173.3 420.3Z
M189.4 419.4 196.3 420 195.9 423.9 189 423.3Z
M183.2 430.1 188.7 431.5 187.8 434.9 182.3 433.4Z
M12.6 460.4 33 457.9 35 474.7 14.6 477.2Z
M32.9 459.8 47.9 458 49.4 470 34.3 471.9Z
M29.9 455.4 31.9 454.5 33.7 458.4 31.8 459.3Z
M116.4 494.1 127 496 126.1 501.5 115.4 499.7Z
M135.1 495 137.7 495 137.7 497.6 135.1 497.6Z
M195.8 457.4 197.3 456.5 199 459.5 197.5 460.4Z
M194.2 467.2 198.3 469.5 195.5 474.4 191.3 472Z
M186.3 476.1 190.8 478.7 186.9 485.4 182.4 482.8Z
M177 489.4 182.6 492.6 180.2 496.8 174.6 493.5Z
M172.2 498.9 176.2 500.4 175 503.7 171 502.2Z
M196.3 499.1 198.5 499.1 198.5 502.2 196.3 502.2Z
M162.5 505.7 167.5 507 166.5 510.8 161.5 509.4Z
M153.8 514.2 158.4 515.4 157 520.4 152.4 519.2Z
M147.2 522.1 154.4 523.4 153.7 527.7 146.4 526.4Z
M189.3 511.2 195.2 509.7 196 512.6 190.1 514.2Z
M195.9 514.7 200 514.7 200 516.9 195.9 516.9Z
M185.6 518.3 191.1 516.9 191.9 519.8 186.4 521.2Z
M179.4 525.4 187.1 524 187.6 527 180 528.4Z
M174.1 531.5 178.1 534.9 175.3 538.2 171.3 534.8Z
M157.5 538.6 161.8 541.6 158.5 546.2 154.3 543.2Z
M162.6 543.1 164.3 543.1 164.3 544.8 162.6 544.8Z
M151.4 546.1 154.6 548.3 151.6 552.6 148.4 550.4Z
M158.7 545.1 161.2 546.8 159.5 549.3 157 547.6Z
M162.3 550.4 170.6 550.4 170.6 554.1 162.3 554.1Z
M172.7 550.4 182.9 550.4 182.9 554.8 172.7 554.8Z
M178.1 567.2 191.9 566.5 192.1 569.5 178.2 570.3Z
M181.8 569.9 186.1 569.9 186.1 572.1 181.8 572.1Z
M197 569.3 200 569.3 200 571.4 197 571.4Z
M161.9 590.9 168.4 590.9 168.4 600 161.9 600Z
M175.3 593.7 200 593.7 200 600 175.3 600Z
M76.1 504.3 82 505.3 81.1 510.9 75.1 509.8Z
M90.2 508.6 95.8 509.6 95.1 513.4 89.5 512.5Z
M103.5 510.6 108.6 511.5 107.7 516.6 102.6 515.7Z
M115.9 515.5 121.9 516.6 121.3 519.6 115.4 518.5Z
M133.6 518.7 137.5 519.4 136.9 522.4 133.1 521.7Z
M144.8 522.3 146.1 522.3 146.1 523.6 144.8 523.6Z
M67.7 517.4 74 519.1 73 522.9 66.7 521.2Z
M74.7 523.8 76 523.8 76 525.1 74.7 525.1Z
M75.1 527.1 76.4 527.1 76.4 528.4 75.1 528.4Z
M86.5 520.3 94.6 521.7 94 525.6 85.9 524.1Z
M82.3 528.1 86.6 528.1 86.6 530.3 82.3 530.3Z
M109.9 525.9 115.8 527 115.2 530.4 109.3 529.3Z
M120.5 527.8 129 529.3 128.4 532.8 119.9 531.3Z
M117.5 529.9 120.6 529.9 120.6 531 117.5 531Z
M133.5 529.8 144.2 531.7 143.5 535.5 132.9 533.7Z
M107.9 533.4 112.6 534.2 112 537.2 107.3 536.4Z
M121.5 534.8 126.9 536.3 126.1 539.2 120.7 537.7Z
M131.8 538.1 136.8 539.5 135.8 543.2 130.8 541.9Z
M103.6 540.9 109.2 541.9 108.5 545.7 103 544.7Z
M108.4 545.9 110.2 545.9 110.2 547.6 108.4 547.6Z
M126.8 545.2 132.4 546.2 131.6 550.5 126.1 549.5Z
M121.6 553.4 128 554.5 127.3 558.3 120.9 557.2Z
M118.6 561.1 124.9 562.8 123.8 566.6 117.6 564.9Z
M109.1 554.1 110.8 554.1 110.8 555.4 109.1 555.4Z
M113.9 558.9 115.6 558.9 115.6 560.2 113.9 560.2Z
M7.7 508 11.1 508.6 10.5 512 7.1 511.4Z
M6.8 516.6 10.2 517.2 9.6 520.6 6.2 520Z
M2.6 526.7 7.2 528 6.1 532.1 1.5 530.9Z
M26.1 511.1 31.2 512.4 30.1 516.2 25.1 514.8Z
M22.7 519.8 27.3 521 26.3 524.8 21.7 523.6Z
M20.7 531.5 27 533.2 26 536.9 19.7 535.2Z
M17.3 539.4 22.8 540.8 21.6 545 16.2 543.6Z
M12.6 542 15.6 542 15.6 545.9 12.6 545.9Z
M41.4 516.8 46 518 45.1 521.3 40.5 520.1Z
M39.8 525.4 44.8 526.7 43.7 530.9 38.7 529.6Z
M36.2 535.9 41.9 538 40.4 542 34.7 540Z
M36.8 545.7 40.6 546.7 39.8 549.6 36 548.6Z
M32.9 505 34.2 505 34.2 506.3 32.9 506.3Z
M1.9 548.6 7.7 550.2 6.8 553.5 1 552Z
M10.8 548.5 14.1 549.4 13 553.6 9.7 552.7Z
M14.7 547.2 19 547.2 19 548.3 14.7 548.3Z
M18.9 550.7 24.2 552.6 23 555.8 17.8 553.9Z
M30.3 554.1 36.3 555.1 35.5 559.8 29.5 558.7Z
M25.1 558.9 26.8 558.9 26.8 560.6 25.1 560.6Z
M42.6 551.9 43.9 551.9 43.9 553.2 42.6 553.2Z
M48.7 548.6 52.1 548 53 553.1 49.6 553.7Z
M55.9 551.2 59.3 550.6 60.1 555.3 56.7 555.9Z
M62.6 553.4 66.4 552.7 67.3 557.4 63.4 558.1Z
M69.4 558 73.6 557.2 74.4 561.5 70.1 562.2Z
M79.7 553.2 83.1 552.9 83.5 557.6 80.1 557.9Z
M89.1 557.7 92.2 557.5 92.7 563.5 89.7 563.8Z
M96.3 557.8 100.2 557.4 100.7 563.5 96.8 563.8Z
M103.4 558 106.9 557.7 107.4 563.3 103.9 563.6Z
M55.8 533.7 60.3 535.3 58.9 539 54.5 537.4Z
M62.5 539.6 68.3 538 69.6 542.6 63.7 544.2Z
M72.2 538.6 77.2 537.3 78.4 541.9 73.4 543.2Z
M86.3 537 89.8 536.7 90.3 542.3 86.8 542.6Z
M162.3 590.4 168.8 590.8 167.7 620.7 160.6 620Z
M143.9 619.6 166.2 620.5 165.8 624.6 143.9 623.3Z
M175.8 593.4 200 594.7 200 621.6 174.5 620.3Z
M173.2 645.4 200 646.7 200 676.3 171.9 675.2Z
M149.4 644.3 166.7 644.9 165.4 676.1 156.3 675.7 157.6 658.4 148.9 657.5Z
M6.5 609.7 12.6 609.9 12.1 619.6 6.1 619.2Z
M12.1 612.9 20.6 612.9 20.6 617.2 12.1 617.2Z
M20.6 613.1 32.9 613.8 32 626.1 19.9 625.5Z
M48.3 604.9 55.2 604.9 55.2 612 48.3 612Z
M55.6 601.9 67.7 601.9 67.7 612.3 55.6 612.3Z
M68.2 610.3 103.9 612.5 103.5 617.9 93.1 617.2 92.6 614.6 88.7 614.6 88.7 616.8 69.7 615.7Z
M114.7 606.6 117.1 606.6 117.1 611.8 114.7 611.8Z
M28.4 631.1 40 631.5 39.8 635.8 28.1 635.4Z
M27.9 637.1 39.8 637.8 39.4 642.8 27.5 641.9Z
M22.5 638 23.8 638 23.8 639.3 22.5 639.3Z
M51.9 638.4 71 639.3 69.3 670.9 50.4 669.6Z
M10.4 656.2 28.6 657.1 27.1 684.1 9.1 683Z
M53.7 680.9 56.9 680.9 56.9 682.4 53.7 682.4Z
M63 685.6 66.7 685.8 66 693.6 62.6 693.4Z
M62.1 697.3 65.6 697.5 64.9 706.2 61.7 706Z
M73.6 680.9 82.9 681.5 80.7 720 71.4 719.4Z
M91.3 679.1 110 680 107.6 722 89 720.9Z
M118.4 680 135.1 680.9 132.7 722.4 116.2 721.6Z
M145 684.3 153.2 684.8 151.1 723.3 142.9 722.6Z
M24.9 707.7 53.2 709.2 52.6 719 24 717Z
M23.4 730.6 58.9 733.2 57.4 749.3 21.9 746.7Z
M71 728.7 80.3 729.1 79 751 69.7 750.3Z
M118.1 825.9 121.4 824.8 124.3 832.9 121.1 834.1Z
M127.7 840.5 140.7 835.9 141.3 838.7 149.4 836.6 150.9 841.3 130.5 848.5Z
M255.8 7.1 261 7.1 261 10.2 255.8 10.2Z
M265.6 7.1 270.8 7.1 270.8 10.2 265.6 10.2Z
M275.1 8 280.1 8 280.1 11.5 275.1 11.5Z
M241.6 13.4 250.1 14.9 249.3 19.1 240.8 17.6Z
M309.7 5.4 314.7 5.4 314.7 12.3 309.7 12.3Z
M315.8 7.6 322.7 7.6 322.7 11.3 315.8 11.3Z
M347.8 7.8 353.2 9.2 352.2 13 346.8 11.5Z
M359.1 5.4 366.8 6.8 365.5 14 357.9 12.7Z
M255.8 21 261.7 21 261.7 25.3 255.8 25.3Z
M265.6 21.6 271.4 21.6 271.4 25.1 265.6 25.1Z
M279 22.7 286.1 22.7 286.1 26 279 26Z
M290.9 21.6 296.3 21.6 296.3 26 290.9 26Z
M298.5 20.6 306.1 20.6 306.1 25.3 298.5 25.3Z
M309.7 20.6 316.2 20.6 316.2 27.1 309.7 27.1Z
M319.5 21 326 21 326 26.8 319.5 26.8Z
M259.9 32.4 267.4 34.4 266.5 37.7 259 35.7Z
M242.2 40.7 249.9 43.5 248.7 46.8 241 43.9Z
M260.7 44.8 268.4 47.6 267.1 51.3 259.3 48.5Z
M283.2 37.6 287.2 35.8 289.9 41.6 286 43.5Z
M294.8 37.2 301.1 37.2 301.1 40.7 294.8 40.7Z
M307.8 42.6 313.2 42.6 313.2 47.2 307.8 47.2Z
M326.2 37.6 333.5 43.7 330.1 47.7 322.8 41.6Z
M321.5 49.4 326.1 52.6 323.9 55.8 319.3 52.6Z
M360.2 37.4 364.5 37.4 364.5 39.6 360.2 39.6Z
M357.6 47.6 362.3 47.6 362.3 55.2 357.6 55.2Z
M390.5 45 395.9 45 395.9 47.6 390.5 47.6Z
M379.7 50.9 383.1 50.9 383.1 56.7 379.7 56.7Z
M388.3 51.3 394.8 51.3 394.8 55.6 388.3 55.6Z
M389.4 39.6 391.6 39.6 391.6 41.1 389.4 41.1Z
M211.9 56.9 219.5 56.9 219.5 61 211.9 61Z
M229.2 54.8 234.6 54.8 234.6 60.2 229.2 60.2Z
M237.9 54.1 241.6 54.1 241.6 59.5 237.9 59.5Z
M248.7 55.6 255.2 55.6 255.2 60.2 248.7 60.2Z
M282.3 53 289.8 53 289.8 58 282.3 58Z
M292.6 54.5 299.1 54.5 299.1 60.2 292.6 60.2Z
M303.5 57.4 310 57.4 310 62.1 303.5 62.1Z
M331.5 57.6 336.5 61.1 334.7 63.6 329.8 60.1Z
M338.3 53.9 340.3 54.6 338.8 58.7 336.8 57.9Z
M343.9 49.9 346.8 50.7 345.3 56.1 342.4 55.4Z
M347.2 60.6 352.8 60.6 352.8 64.3 347.2 64.3Z
M341.8 64.1 343.5 64.1 343.5 65.8 341.8 65.8Z
M366.2 56.7 371 56.7 371 61 366.2 61Z
M381 61.5 382.7 61.5 382.7 64.1 381 64.1Z
M335.9 71.4 341.1 71.4 341.1 75.8 335.9 75.8Z
M348.9 72.5 354.8 72.5 354.8 76.8 348.9 76.8Z
M366.7 71.9 375.3 71.9 375.3 75.1 366.7 75.1Z
M380.7 71.9 386.6 71.9 386.6 74.7 380.7 74.7Z
M390.5 69.3 398.1 69.3 398.1 72.9 390.5 72.9Z
M295.2 69.3 300 69.3 300 74 295.2 74Z
M308.2 76.4 315.4 76.4 315.4 81.8 308.2 81.8Z
M205.4 68.8 209.7 68.8 209.7 70.6 205.4 70.6Z
M203.2 72.1 213 72.1 213 75.8 203.2 75.8Z
M220.1 76 223.8 73.8 225.4 76.4 221.6 78.6Z
M234.4 73.3 238.2 74 237.1 80.4 233.2 79.7Z
M241.1 68.4 251.9 68.4 251.9 71 241.1 71Z
M243.3 73.6 248.1 73.6 248.1 78.4 243.3 78.4Z
M254.1 72.5 259.5 72.5 259.5 77.5 254.1 77.5Z
M261.7 73.6 263.9 73.6 263.9 83.3 261.7 83.3Z
M263 80.5 272.1 80.5 272.1 86.6 263 86.6Z
M273.6 80.5 278.4 80.5 278.4 84.4 273.6 84.4Z
M281.2 81.6 286.1 81.6 286.1 85.1 281.2 85.1Z
M201.9 89.3 212.5 87.4 213.3 91.7 202.6 93.5Z
M217.3 89.8 224.2 89.8 224.2 93.1 217.3 93.1Z
M224.9 87.7 230.3 87.7 230.3 90.9 224.9 90.9Z
M241.1 88.3 242.9 88.3 242.9 90 241.1 90Z
M200 100 203.9 100 203.9 103.5 200 103.5Z
M209.1 97.8 215.6 97.8 215.6 102.8 209.1 102.8Z
M223.4 98.5 226.6 98.5 226.6 103.5 223.4 103.5Z
M232.5 97.4 236.8 97.4 236.8 101.7 232.5 101.7Z
M241.1 96.8 247.6 96.8 247.6 101.3 241.1 101.3Z
M200 109.3 204.8 109.3 204.8 113.6 200 113.6Z
M209.1 110.8 214.7 110.8 214.7 114.3 209.1 114.3Z
M215.6 116 217.3 116 217.3 117.7 215.6 117.7Z
M224.2 110.4 229.9 110.4 229.9 113.9 224.2 113.9Z
M232.5 108.2 237.9 108.2 237.9 115.2 232.5 115.2Z
M241.1 109.3 248.1 109.3 248.1 114.1 241.1 114.1Z
M250 107.4 254.7 106.6 256.1 114.2 251.4 115.1Z
M255.8 104.8 258.7 104 260.2 109.5 257.3 110.3Z
M257.8 111.3 260.2 111.3 260.2 113.9 257.8 113.9Z
M262.3 107.1 267.1 107.1 267.1 111.9 262.3 111.9Z
M268.4 101.2 278 103.8 276.6 108.8 267 106.2Z
M269 91.1 273.8 91.1 273.8 95.9 269 95.9Z
M267.5 97.4 271.9 97.4 271.9 99.6 267.5 99.6Z
M277 97.1 283.3 95.4 285.3 102.9 279 104.6Z
M285.7 90.7 290.4 91.1 289.6 100.6 284.9 100.2Z
M279.7 91.8 284.8 91.8 284.8 93.5 279.7 93.5Z
M298.5 90.5 301.7 90.5 301.7 96.3 298.5 96.3Z
M303.9 92.8 309.2 90.9 310.4 94.2 305.1 96.1Z
M300.5 98.5 306.8 96.8 307.3 98.5 301 100.2Z
M310.8 89.8 314.3 89.8 314.3 92 310.8 92Z
M314.2 90.5 320.5 88.9 321.7 93.5 315.4 95.1Z
M321.6 86.6 326 86.6 326 92 321.6 92Z
M330.9 85.6 350.7 82.8 351.3 87.6 331.6 90.3Z
M351.5 81.2 356.3 81.2 356.3 85.5 351.5 85.5Z
M358 81.2 365.6 81.2 365.6 85.9 358 85.9Z
M368.4 80.5 371 80.5 371 86.6 368.4 86.6Z
M374.2 80.5 377.5 80.5 377.5 86.6 374.2 86.6Z
M379.7 81.2 384 81.2 384 85.5 379.7 85.5Z
M383.8 81.3 399.8 79.9 400.1 84 384.2 85.4Z
M295.1 106.8 305.8 104.9 306.2 107.5 295.5 109.4Z
M305 103.9 310.4 103.9 310.4 108.7 305 108.7Z
M312.1 100.6 315.8 100.6 315.8 107.6 312.1 107.6Z
M318 98.5 321.2 98.5 321.2 104.5 318 104.5Z
M322.9 97.8 326 97.8 326 103.9 322.9 103.9Z
M328.6 99.6 331.2 99.6 331.2 103.9 328.6 103.9Z
M318.5 109.3 337 106.7 337.7 112.3 319.3 114.9Z
M336.4 94.2 340.3 94.2 340.3 99.6 336.4 99.6Z
M338.5 102.2 342.9 102.2 342.9 105.6 338.5 105.6Z
M341.8 95.2 346.1 95.2 346.1 101.1 341.8 101.1Z
M347.6 93.1 351.5 93.1 351.5 102.2 347.6 102.2Z
M353.2 92 358 92 358 101.7 353.2 101.7Z
M355.4 103.9 358.4 103.9 358.4 110.8 355.4 110.8Z
M347.2 106.1 350.6 106.1 350.6 109.3 347.2 109.3Z
M362.8 98.5 368.4 98.5 368.4 108.2 362.8 108.2Z
M365.6 107.1 367.7 107.1 367.7 113.6 365.6 113.6Z
M368.8 93.1 380.7 93.1 380.7 96.8 368.8 96.8Z
M373.2 96.8 379.7 96.8 379.7 101.7 373.2 101.7Z
M382.9 100.6 387.2 100.6 387.2 102.8 382.9 102.8Z
M381.4 93.6 392.1 95.1 391.8 97.7 381 96.2Z
M379.7 109.3 386.6 109.3 386.6 113 379.7 113Z
M390.5 112.1 392.2 112.1 392.2 114.3 390.5 114.3Z
M368.4 119.3 376.8 121.5 375.8 125.3 367.4 123.1Z
M377.4 127.7 381 130.2 379.7 132 376.2 129.5Z
M384.4 118 387.9 118 387.9 128.1 384.4 128.1Z
M392.2 129.9 397.8 126.6 401.7 133.4 396.1 136.6Z
M269.4 114 282.4 110.5 284.3 117.6 271.3 121.1Z
M292 115.4 311.5 115.4 311.5 123.4 292 123.4Z
M271.4 121.6 283.3 121.6 283.3 125.1 271.4 125.1Z
M271.4 127.7 283.3 127.7 283.3 131 271.4 131Z
M272.5 132 280.5 132 280.5 135.9 272.5 135.9Z
M255.4 121.6 258.4 121 260.6 133.8 257.6 134.4Z
M254.1 134.2 258.9 134.2 258.9 139.6 254.1 139.6Z
M260.5 134.9 273.3 133.1 273.7 135.7 260.8 137.5Z
M262.3 137.4 265.4 137.4 265.4 139.6 262.3 139.6Z
M287.7 123.8 290.9 123.8 290.9 134.6 287.7 134.6Z
M290.9 129.4 305 129.4 305 133.8 290.9 133.8Z
M308.7 128.4 312.1 128.4 312.1 130.5 308.7 130.5Z
M315.8 115.4 321.2 115.4 321.2 133.1 315.8 133.1Z
M320.1 115.4 326.6 115.4 326.6 118 320.1 118Z
M327.7 120.1 332.5 120.1 332.5 132 327.7 132Z
M332 119 338.5 119 338.5 121.2 332 121.2Z
M327.7 133.5 333.1 133.5 333.1 137.4 327.7 137.4Z
M343.7 128.4 354.3 126.2 355 129.1 344.4 131.4Z
M359.3 135.9 361.5 135.9 361.5 138.1 359.3 138.1Z
M350.1 141.7 356.5 140.6 357.3 144.9 350.9 146Z
M339.6 138.5 345 138.5 345 142.4 339.6 142.4Z
M337 134.2 340 134.2 340 136.4 337 136.4Z
M331 146.8 347.2 146.8 347.2 149.4 331 149.4Z
M329.2 140.7 333.1 140.7 333.1 147.2 329.2 147.2Z
M298.5 134.8 306.6 137.8 305 142.2 296.8 139.3Z
M305 134.4 309.3 134.4 309.3 136.1 305 136.1Z
M310.8 136.4 313.9 136.4 313.9 151.5 310.8 151.5Z
M316.9 145 320.8 145 320.8 152.6 316.9 152.6Z
M321.5 147.9 327.9 149.1 327.4 151.6 321 150.5Z
M305.6 147.2 309.7 149.6 308.7 151.5 304.5 149.1Z
M331 154.8 333.8 154.8 333.8 164.5 331 164.5Z
M339.6 154.1 345.5 154.1 345.5 161.9 339.6 161.9Z
M345.5 155.4 349.8 155.4 349.8 157.6 345.5 157.6Z
M331 171 340.7 171 340.7 173.2 331 173.2Z
M337.4 166.2 340.7 166.2 340.7 173.2 337.4 173.2Z
M309.3 167.1 320.1 167.1 320.1 169.3 309.3 169.3Z
M309.3 172.7 320.1 172.7 320.1 174.9 309.3 174.9Z
M309.3 167.1 311.9 167.1 311.9 174.9 309.3 174.9Z
M317.5 167.1 320.1 167.1 320.1 174.9 317.5 174.9Z
M308.2 156.9 320.1 156.9 320.1 162.3 308.2 162.3Z
M296.7 151.9 307.5 152.9 306.8 160.6 296 159.7Z
M291.3 148.7 294.7 148.1 297 160.9 293.6 161.5Z
M290.5 164.1 293.5 164.1 293.5 167.1 290.5 167.1Z
M289.8 171 293.7 171 293.7 174.9 289.8 174.9Z
M274.7 165.6 279.7 165.6 279.7 170.6 274.7 170.6Z
M274.7 140 283.3 140 283.3 147.8 274.7 147.8Z
M273.6 149.4 286.6 149.4 286.6 152.6 273.6 152.6Z
M274.7 155.2 284.4 155.2 284.4 161.3 274.7 161.3Z
M270.3 160.2 280.1 160.2 280.1 162.8 270.3 162.8Z
M200 122.3 204.3 122.3 204.3 126.6 200 126.6Z
M200 135.3 205.4 135.3 205.4 140.7 200 140.7Z
M206.5 135.9 213 135.9 213 138.5 206.5 138.5Z
M208.7 139.6 213 139.6 213 142.9 208.7 142.9Z
M215.2 135.3 221.6 135.3 221.6 138.5 215.2 138.5Z
M214.1 139.6 221.6 139.6 221.6 142.4 214.1 142.4Z
M224.7 131.3 228.6 130.8 230.7 145.8 226.8 146.3Z
M229.2 129 231.4 129 231.4 131.2 229.2 131.2Z
M200 142.9 206.5 142.9 206.5 149.4 200 149.4Z
M207.6 145 216.2 145 216.2 148.9 207.6 148.9Z
M217.3 143.9 226 143.9 226 148.3 217.3 148.3Z
M203.1 153.4 207.3 154.5 203.4 169.1 199.2 168Z
M208 152.2 212.6 153.1 211.5 159.5 206.8 158.6Z
M207.9 162.5 216.4 164 215.9 166.5 207.4 165Z
M215.1 152.3 218.9 153 217.4 161.5 213.6 160.9Z
M223.7 151.8 228.4 152.5 226.1 168.5 221.4 167.9Z
M230.5 151.4 233.6 151.7 232.2 166.8 229.2 166.5Z
M217.7 166.5 220.6 167 219.1 175.5 216.2 175Z
M202.2 168.8 206.5 168.8 206.5 173.2 202.2 173.2Z
M234.9 167 239.2 169.1 236.5 174.9 232.2 172.9Z
M239 147.2 243.3 147.2 243.3 153.7 239 153.7Z
M244.4 146.8 250.9 146.8 250.9 150.4 244.4 150.4Z
M244.4 151.5 249.8 151.5 249.8 155.8 244.4 155.8Z
M251.9 146.1 257.4 146.1 257.4 149.4 251.9 149.4Z
M251.9 150.4 258 150.4 258 154.8 251.9 154.8Z
M258.4 145.5 264.9 145.5 264.9 149.4 258.4 149.4Z
M259.5 151.5 264.9 151.5 264.9 154.8 259.5 154.8Z
M266 145 271.4 145 271.4 149.4 266 149.4Z
M266 151.5 272.5 151.5 272.5 155.8 266 155.8Z
M239 155.8 243.3 155.8 243.3 162.3 239 162.3Z
M244.2 160 259.1 157.4 259.7 160.3 244.8 163Z
M258.4 157.6 261.7 157.6 261.7 161.3 258.4 161.3Z
M216 173.5 218.5 173 220.8 185.8 218.2 186.3Z
M238.5 178.1 244.4 178.1 244.4 182.3 238.5 182.3Z
M211.9 189.6 218.4 189.6 218.4 191.3 211.9 191.3Z
M214.7 191.8 217.7 191.8 217.7 200 214.7 200Z
M250.9 190.5 270.3 190.5 270.3 194.8 250.9 194.8Z
M221.6 196.5 232.5 196.5 232.5 200 221.6 200Z
M243.3 196.5 253 196.5 253 200 243.3 200Z
M280.1 197 282.3 197 282.3 199.1 280.1 199.1Z
M293.1 179.4 296.5 180 295.2 187.7 291.8 187.1Z
M292.6 189.1 295 190 293.6 194 291.1 193.1Z
M200 200 204.3 200 204.3 204.8 200 204.8Z
M208.7 200.4 210.8 200.4 210.8 203.9 208.7 203.9Z
M213.6 201.1 218 201.1 218 208.2 213.6 208.2Z
M232.1 199.7 253.3 201.2 252.7 209 231.6 207.5Z
M213.6 210.4 218 210.4 218 214.7 213.6 214.7Z
M224.5 208.2 228.6 208.2 228.6 215.8 224.5 215.8Z
M210 214.7 211.7 214.7 211.7 216.9 210 216.9Z
M217.3 219 219.5 219 219.5 221.2 217.3 221.2Z
M232.3 220.8 233.5 220.8 233.5 222.9 232.3 222.9Z
M248.5 218.8 250.2 218.8 250.2 220.6 248.5 220.6Z
M201.1 242.2 208 242.2 208 247 201.1 247Z
M214.3 245.9 218.4 245.9 218.4 252.6 214.3 252.6Z
M242.5 243 248.9 241.9 249.8 247 243.4 248.1Z
M239 251.9 244.8 251.9 244.8 255.6 239 255.6Z
M224.5 255.8 235.7 255.8 235.7 258.9 224.5 258.9Z
M224.9 259.5 235.7 259.5 235.7 263.2 224.9 263.2Z
M226 251.9 229.2 251.9 229.2 255.8 226 255.8Z
M232.5 253 235.7 253 235.7 255.8 232.5 255.8Z
M204.1 258.2 208.9 258.2 208.9 264.3 204.1 264.3Z
M205.6 255 207.8 255 207.8 257.1 205.6 257.1Z
M202.2 268.3 208.3 270.5 206.4 275.8 200.3 273.6Z
M232 268.4 240 268.4 240 271 232 271Z
M230.3 272.9 239 272.9 239 274.9 230.3 274.9Z
M224.1 274.6 229.5 276.1 228.7 279 223.3 277.6Z
M215.6 284.2 216.9 284.2 216.9 285.5 215.6 285.5Z
M242 287.5 247.2 288.4 246.3 293.5 241.1 292.6Z
M241.6 300.6 242.9 300.6 242.9 301.9 241.6 301.9Z
M221.5 306.6 225.4 306.9 224.8 312.9 221 312.6Z
M227.3 306.1 229 306.1 229 307.4 227.3 307.4Z
M223.1 321 227.7 319.8 228.9 324.4 224.3 325.6Z
M230.3 318.2 232.5 318.2 232.5 319.9 230.3 319.9Z
M228.1 329.2 233.5 329.2 233.5 332.7 228.1 332.7Z
M235.7 330.1 237 330.1 237 332.7 235.7 332.7Z
M244.2 329.4 248.3 329.4 248.3 331.6 244.2 331.6Z
M245 352.2 248.2 350 251.1 354.3 247.9 356.5Z
M252.6 349.8 256.2 348.2 256.9 349.7 253.4 351.4Z
M252.5 359.2 257.6 356.9 260 362 254.9 364.3Z
M261.5 357.4 264.1 357.4 264.1 359.5 261.5 359.5Z
M230.8 358.4 236.2 356.9 237.6 362 232.2 363.4Z
M224.2 364.1 226.3 363.7 226.9 367.1 224.8 367.5Z
M231.8 375.8 235.3 375.8 235.3 377.9 231.8 377.9Z
M233.5 377.9 238.3 377.9 238.3 383.5 233.5 383.5Z
M217.3 382.9 218.6 382.9 218.6 384.2 217.3 384.2Z
M228.5 388.4 235.1 386.6 236.5 391.7 229.8 393.4Z
M219 392.9 224.9 392.9 224.9 394.6 219 394.6Z
M208.7 393.3 216.2 393.3 216.2 397.4 208.7 397.4Z
M230.7 395.9 235.1 395.9 235.1 400 230.7 400Z
M271.9 377.1 279 377.1 279 380.1 271.9 380.1Z
M266 383.5 271.9 383.5 271.9 390.5 266 390.5Z
M279 385.5 285.9 385.5 285.9 389.4 279 389.4Z
M293.8 374.9 301 376.2 300.1 381.3 292.9 380.1Z
M292 384.4 297 384.4 297 389.6 292 389.6Z
M291.6 392.2 297 392.2 297 395.9 291.6 395.9Z
M285.3 393.9 287 393.9 287 395.7 285.3 395.7Z
M394.8 318 400 318 400 320.6 394.8 320.6Z
M357.4 358.4 395.5 390.4 391.1 395.7 352.9 363.7Z
M359.1 358.6 364.1 362.8 361.3 366.1 356.3 361.9Z
M381.5 389.4 388.8 395.5 387.4 397.2 380.1 391.1Z
M377.8 394.7 383.8 399.7 382.4 401.4 376.4 396.4Z
M384.9 386.5 386.5 387.9 380.9 394.5 379.3 393.1Z
M358.7 390.5 360.4 390.5 360.4 391.8 358.7 391.8Z
M204.3 400 208.7 400 208.7 401.7 204.3 401.7Z
M222 402.2 227.5 403.1 226.5 408.7 221 407.7Z
M220.5 412.4 226.9 413.6 226.3 417 219.9 415.9Z
M218.5 426.2 224.2 428.2 222.7 432.3 217 430.2Z
M210.4 427.7 213.4 427.7 213.4 430.7 210.4 430.7Z
M203.1 436.1 206.4 438 204.7 441 201.3 439.1Z
M210.7 435.7 213.3 437.2 210.9 441.3 208.3 439.8Z
M218.7 436.4 222 437.5 220.2 442.4 217 441.2Z
M259.3 402.6 264.4 403.5 263.2 410.4 258.1 409.5Z
M270.3 402.8 275.4 403.7 274.7 408 269.6 407.1Z
M267.2 412.5 272.8 413.5 272.2 416.9 266.6 415.9Z
M246.3 411.6 250.6 412.3 249.8 416.6 245.5 415.8Z
M251.2 416.4 254.6 417 252.7 427.7 249.3 427.1Z
M239.8 423.1 243.2 423.7 241.6 433.1 238.2 432.5Z
M245.2 431.7 249.9 432.5 249.2 436.3 244.5 435.5Z
M269.2 426.8 275.6 427.9 274.5 434.3 268.1 433.2Z
M265.4 423.2 269.6 424.3 268.8 427.5 264.6 426.3Z
M262.1 431.3 265.9 432 264.8 438.4 260.9 437.7Z
M265.8 437.9 269.3 437.9 269.3 443.5 265.8 443.5Z
M272.7 438.3 276.6 438.3 276.6 443.9 272.7 443.9Z
M279.6 438.6 283.9 439.4 282.7 445.8 278.5 445Z
M285.2 440.2 289 440.9 288 446.4 284.2 445.7Z
M290.6 440.9 294 441.5 292.1 452.2 288.7 451.6Z
M297.1 417.5 300.9 418.1 299.9 423.7 296.1 423Z
M294.8 425.7 297.8 426.3 297 430.5 294 430Z
M308.6 419.9 314.1 420.9 313.5 424.7 307.9 423.7Z
M305.1 428.8 309.8 429.7 309.2 433.1 304.5 432.2Z
M317.8 421.7 322.5 422.5 321.6 428.1 316.9 427.2Z
M331 419.9 334 420.4 333.1 425.5 330.1 425Z
M325.3 418.6 327.1 418.6 327.1 420.3 325.3 420.3Z
M327 432.3 331.3 433.1 330.6 436.9 326.3 436.2Z
M343.2 430.2 347 430.9 346 436.9 342.1 436.2Z
M333.3 439.4 335.9 439.4 335.9 442 333.3 442Z
M300.9 439.8 302.6 439.8 302.6 441.6 300.9 441.6Z
M300 447.2 303.5 447.2 303.5 450.2 300 450.2Z
M313.1 448 316.5 447.4 317.6 453.8 314.2 454.4Z
M322 451.4 327.9 453 326.9 456.8 321 455.2Z
M329.5 450.6 333.4 451.2 332.4 456.8 328.5 456.1Z
M338.3 451.7 342.1 452.3 341 458.7 337.1 458.1Z
M321.9 460.2 328 462.5 327 465.3 320.9 463.1Z
M331.2 460.8 332.9 460.8 332.9 462.6 331.2 462.6Z
M318.2 403.5 319.9 403.5 319.9 405.2 318.2 405.2Z
M223.1 457.2 229.1 452.2 231 454.5 225 459.5Z
M219.7 463.8 226.4 459.9 227.9 462.6 221.2 466.5Z
M228.4 465.8 230.1 465.8 230.1 467.5 228.4 467.5Z
M237.2 448.3 244.4 449.6 243.8 453.4 236.5 452.1Z
M250.2 448.7 255.8 449.7 255 454.3 249.4 453.4Z
M256.5 453.2 258.2 453.2 258.2 455 256.5 455Z
M268.3 455 273.4 457.4 272.3 459.7 267.2 457.3Z
M276 456.4 282.9 458.9 282 461.4 275.1 458.8Z
M292.8 459.7 296.6 460.3 295.5 466.7 291.7 466.1Z
M301.9 463.9 307.2 465.8 305.9 469.5 300.6 467.5Z
M309.2 466.5 313.9 467.3 312.9 472.9 308.2 472.1Z
M199.3 462.2 202.5 461 204.2 465.5 200.9 466.7Z
M203.3 491.1 208.6 493 207.5 495.9 202.2 494Z
M202.2 523.6 204.3 523.6 204.3 526.2 202.2 526.2Z
M310 473.9 314.6 474.7 313 484.1 308.3 483.3Z
M318.8 476.6 320.6 477.7 318.5 481.4 316.6 480.3Z
M305.6 485.9 312.6 485.9 312.6 487.4 305.6 487.4Z
M304.8 489.5 311.2 490.6 310.3 495.8 303.9 494.6Z
M321.4 498.9 326.6 499.4 326.2 504.5 321 504.1Z
M322.8 487.6 331.3 489.1 330.4 494.2 321.9 492.7Z
M329.2 474 335.5 475.7 332.7 486.2 326.4 484.5Z
M334.7 486.2 343.1 488.4 342.3 491.3 334 489.1Z
M341.5 497.5 347.4 500.2 346.3 502.5 340.4 499.8Z
M291.5 508.1 294.9 508.4 294.6 511.8 291.2 511.5Z
M301.7 508.9 306.8 509.8 306.1 514.1 301 513.2Z
M332.7 511 338.6 512 337.9 516.3 331.9 515.2Z
M292.3 520.2 298.7 521.4 298.2 524.4 291.8 523.2Z
M290 519.9 291.8 519.9 291.8 521.6 290 521.6Z
M315.2 518 318.6 518 318.6 521.4 315.2 521.4Z
M322.7 518.8 328.7 519.8 328.4 521.5 322.4 520.5Z
M340.1 519.3 345 521.1 344.3 523.1 339.4 521.3Z
M266.7 523.6 269.7 523.6 269.7 527.5 266.7 527.5Z
M277.5 525.1 285.9 527.4 284.8 531.1 276.5 528.9Z
M311.6 525.9 317.5 527 316.6 532.5 310.6 531.5Z
M279.6 533.6 288 535.8 287.1 539.2 278.7 536.9Z
M305.7 534.3 310.8 535.6 309.4 540.6 304.4 539.3Z
M324.6 540.8 328.5 538.1 331.7 542.7 327.8 545.4Z
M240.4 532.9 244.5 534 243.2 539 239 537.9Z
M252.6 535.7 262.5 536.6 262.1 541.3 252.2 540.5Z
M266.9 538.6 276.7 540.3 275.9 545 266.1 543.3Z
M286.3 542.2 291.3 543.6 290.4 546.9 285.4 545.6Z
M238.9 544.3 245 546.5 243.4 551 237.3 548.7Z
M252.4 547.5 256.6 548.2 255.9 552.5 251.6 551.8Z
M266.2 548.1 271.3 549 270.2 555 265.1 554Z
M285.1 550.9 289.1 552.4 287.2 557.7 283.2 556.2Z
M305.8 551.3 313.5 552.7 312.8 556.9 305.1 555.6Z
M317.9 553.3 323 554.2 322.4 557.6 317.3 556.7Z
M329.9 554.8 337.1 556.1 336.4 560.3 329.1 559.1Z
M231.8 546.5 233.1 546.5 233.1 547.8 231.8 547.8Z
M225.9 559.1 230.5 560.3 228.2 568.7 223.6 567.4Z
M234.2 560.9 238.5 561.2 238.1 566 233.8 565.6Z
M243.9 562.3 250.8 562.9 250.5 566.7 243.6 566.1Z
M255.7 563.5 259.6 563.8 259 569.9 255.2 569.5Z
M266.6 563.7 272.8 565.4 272 568.7 265.7 567.1Z
M277.3 564.6 283.7 565.8 282.8 570.9 276.4 569.7Z
M263.6 569.3 264.9 569.3 264.9 570.6 263.6 570.6Z
M297.1 563.1 301.8 563.9 300.7 570.3 296 569.5Z
M306.3 565.9 311.9 564.9 312.3 567.5 306.8 568.4Z
M318.4 566.4 321.9 567 321 572.1 317.5 571.5Z
M327.2 567.3 332.3 568.2 331.3 573.8 326.2 572.9Z
M337.9 569.8 344.3 570.9 343.5 575.6 337.1 574.5Z
M334 574.7 335.3 574.7 335.3 576 334 576Z
M358.5 562 364.9 563.2 364 567.8 357.6 566.7Z
M372.8 570.7 379.2 571.8 377.9 579.1 371.5 578Z
M300 590.9 301.3 590.9 301.3 592.2 300 592.2Z
M200 593.3 232.5 593.3 232.5 600 200 600Z
M232.5 595.9 248.7 595.9 248.7 600 232.5 600Z
M364.9 595.9 375.8 595.9 375.8 599.1 364.9 599.1Z
M386.1 595.9 391.6 595.9 391.6 598.1 386.1 598.1Z
M200 594.3 232.5 595.6 231.6 622.9 200 621.1Z
M232.5 596.9 249.1 597.7 248.5 614.6 232 613.5Z
M200 646.7 249.1 648.8 248.1 678.7 200 676.3Z
M262.8 621.8 294.2 622.9 293.9 626.5 262.6 625.2Z
M267.5 673.5 284 674.2 283.5 680.2 267.1 679.4Z
M289.2 678.1 293.9 678.1 293.9 680.9 289.2 680.9Z
M247.2 691 253.5 691 253.5 698.8 247.2 698.8Z
M254.5 691.7 258 691.7 258 698.8 254.5 698.8Z
M307.6 649.9 311.9 649.9 311.9 657.1 307.6 657.1Z
M300 590.8 301.3 590.8 301.3 592.1 300 592.1Z
M303.2 703.8 308.9 703.8 308.9 709.4 303.2 709.4Z
M305.9 714.4 311.4 715.4 310.5 720.5 305 719.5Z
M314.5 722.8 318.4 723.4 317.9 726 314.1 725.3Z
M305.7 743.1 310 743.8 309.4 746.8 305.2 746.1Z
M313.9 745.8 318.3 746.2 317.7 753.1 313.3 752.7Z
M294.2 762.5 300 762.5 300 766.6 294.2 766.6Z
M281.7 772.4 287.2 773.4 286.3 778.5 280.8 777.5Z
M278.1 771.3 280.3 771.3 280.3 772.6 278.1 772.6Z
M306.1 777 312.6 777 312.6 780 306.1 780Z
M297.8 769.2 299.1 769.2 299.1 770.5 297.8 770.5Z
M323.8 725.2 328.9 726.2 328.2 730 323.1 729.1Z
M339.3 725.6 343 726.9 341.2 731.8 337.5 730.5Z
M325.4 715.6 330.1 716.4 329.2 721.5 324.5 720.7Z
M326.3 708.3 331.9 709.3 331.3 712.7 325.7 711.7Z
M327.7 698.6 333.7 699.1 333.3 703.8 327.3 703.3Z
M325.5 691.2 328.8 692.4 327.7 695.2 324.5 694Z
M319.9 696.9 321.6 696.9 321.6 698.2 319.9 698.2Z
M331 685.1 337 686.2 336.1 691.3 330.1 690.3Z
M328.4 676.1 338.3 677 337.8 682.2 327.9 681.3Z
M323.4 670.3 329.7 667.3 332 672.4 325.8 675.4Z
M314.3 672.2 317.3 672.2 317.3 674.8 314.3 674.8Z
M312.1 679.8 313.9 679.8 313.9 681.5 312.1 681.5Z
M312.3 669.8 313.6 669.8 313.6 671.1 312.3 671.1Z
M331.6 659.9 336.3 660.8 335.5 665.4 330.8 664.6Z
M345.8 695.7 349.9 697.2 347.2 704.5 343.2 703.1Z
M338.2 649.1 343.8 652.3 341 657.2 335.4 654Z
M349.4 664 355 664.5 354.5 669.2 348.9 668.7Z
M351 655.6 354.3 656.5 353.3 660.3 350 659.4Z
M352 646 355.7 647 354.5 651.6 350.7 650.6Z
M351.5 641.2 356.8 643.2 355.9 645.6 350.6 643.7Z
M355.6 634.8 360.3 635.7 359.1 642.1 354.5 641.2Z
M339.9 636.1 344.9 637.5 343.7 642.1 338.6 640.7Z
M332.6 635.1 338.2 636.1 337.9 637.4 332.4 636.4Z
M336.4 627.6 342.4 628.6 341.5 633.3 335.6 632.3Z
M334 618 342.5 619.5 341.8 623.4 333.3 621.9Z
M360.3 624.1 364.4 626.5 362.2 630.3 358.1 627.9Z
M358.4 618.3 364.4 618.8 364.1 621.8 358.1 621.3Z
M366.1 618.6 373.9 615 375.9 619.3 368.1 622.9Z
M349.1 612.4 354 615.2 351.8 619 346.9 616.2Z
M351.8 605.7 354.3 606.4 352.6 612.7 350.1 612Z
M360.2 607.4 366.2 608.5 365.7 611 359.8 610Z
M365.3 600.9 368.7 601.5 368 605.8 364.6 605.2Z
M370.1 604.5 371.9 604.5 371.9 606.2 370.1 606.2Z
M364.4 595.4 369.5 596.3 369 599.3 363.8 598.4Z
M373.2 599.1 377.8 600.3 377.4 602 372.8 600.8Z
M375.5 594.9 378.6 594.9 378.6 596.7 375.5 596.7Z
M371.4 597.7 372.7 597.7 372.7 599 371.4 599Z
M386.5 597.4 392.5 596.4 393.1 600.2 387.2 601.3Z
M372.5 635.4 377.3 635.8 376.8 641.5 372.1 641Z
M351.7 731.5 360.2 733 359.1 739.4 350.6 737.9Z
M363.6 734.4 373 736.1 371.9 742.5 362.5 740.8Z
M334.5 742.7 338.3 743.4 337.4 748.5 333.6 747.8Z
M338.4 762.3 342.5 759.9 345.1 764.4 341 766.8Z
M353.1 764.3 358.8 761 361.6 765.9 356 769.1Z
M344.5 772.2 349.4 769.4 352 773.9 347.1 776.7Z
M366.7 770.4 373.1 766.8 375.3 770.5 368.9 774.2Z
M380.4 758.4 386.5 754.2 389.7 758.8 383.7 763Z
M389 752.1 392.9 749.4 395.4 752.9 391.5 755.6Z
M376.8 773.5 383.6 769.6 386.8 775.2 380.1 779.1Z
M357.7 779.4 363.3 776.2 364.8 778.8 359.2 782.1Z
M387 778.8 395.1 775.8 396.1 778.6 388 781.6Z
M306.2 777.8 312.7 778.4 312 786.2 305.5 785.6Z
M295.9 785.7 301 786.6 300.2 790.9 295.1 790Z
M299.4 791.1 301.1 791.1 301.1 795.4 299.4 795.4Z
M306.3 793.8 311 794.6 309.8 801.4 305.1 800.6Z
M321.4 785.3 326.1 786.2 324.9 792.5 320.3 791.7Z
M329.9 788.8 334.3 789.1 333.7 795.6 329.4 795.2Z
M344.5 787.5 349.2 788.3 348.1 794.7 343.4 793.9Z
M362.7 785.2 367.6 788 365.4 791.8 360.6 789Z
M370.9 789.7 375.4 792.3 372.8 796.8 368.3 794.2Z
M320.1 800.4 327.3 799.2 328.4 805.6 321.2 806.8Z
M344.2 798.7 349.3 799.6 348.5 804.3 343.3 803.4Z
M356.9 805.4 361.7 802.5 363.9 806.3 359 809.1Z
M364.6 809.6 369.1 812.2 367 815.9 362.5 813.3Z
M341.8 807.5 347.3 808.5 346.6 812.8 341 811.8Z
M304.4 808.7 309.1 809.5 308.2 814.6 303.5 813.8Z
M305.4 805.6 307.1 805.6 307.1 806.9 305.4 806.9Z
M315.2 813.9 322.6 814.6 322.4 815.9 315.1 815.2Z
M321.6 817 327.5 818.1 326.9 821.5 321 820.4Z
M339.2 816.2 344.4 817.1 343.4 822.2 338.3 821.3Z
M349.5 820.1 353.6 822.5 351 827 346.9 824.6Z
M358.7 822.6 363.7 823.9 362.1 829.8 357.1 828.4Z
M300.4 821.4 306.5 821.4 306.5 826.6 300.4 826.6Z
M321.3 825.1 326 826 325 831.9 320.3 831.1Z
M334.5 834 339.2 834.8 338.6 838.2 333.9 837.4Z
M352.9 836.1 357.1 837.2 355.7 842.2 351.6 841.1Z
M373.1 834.5 377.5 832.9 379.3 837.7 374.8 839.4Z
M317.6 837.1 322.2 838.3 320.9 843.4 316.3 842.1Z
M334.1 844.9 341.5 845.5 341.2 849 333.8 848.3Z
M315.5 846.1 320.6 847 319.6 853 314.4 852.1Z
M364.2 845.5 368.9 846.3 367.4 854.9 362.7 854Z
M355.8 849.3 357.1 849.3 357.1 850.6 355.8 850.6Z
M390.5 839.3 403 842.7 401.7 847.7 389.2 844.3Z
M381.9 845.7 388.6 840.2 391.6 843.8 385 849.4Z
M347.2 858 350.1 857.2 351 860.6 348.1 861.3Z
M303.4 862.2 308.9 860.8 310 865 304.6 866.4Z
M327.5 862.9 333.6 860.7 334.9 864.3 328.8 866.6Z
M373.9 861.1 378 862.6 375.9 868.3 371.8 866.8Z
M305.5 869 312 871.4 310.5 875.5 304 873.1Z
M351.7 867.6 359.3 866.2 360.5 872.6 352.8 874Z
M365.1 869 374.5 872.4 373 876.4 363.6 873Z
M324.4 874.2 329.9 875.2 329.3 879 323.7 878Z
M342.2 878.9 348.2 880 347.4 884.2 341.4 883.2Z
M358.4 882.2 364.3 880.6 365.4 884.8 359.5 886.4Z
M306 881.1 310.9 878.3 313 882 308.2 884.9Z
M300.8 884.7 304.6 882.5 306.5 885.9 302.8 888Z
M299.6 878.8 300.9 878.8 300.9 880.1 299.6 880.1Z
M308.2 889.8 309.5 889.8 309.5 891.5 308.2 891.5Z
M323.4 883.6 327.3 883.9 326.8 889.1 322.9 888.8Z
M337.4 886.7 342.9 887.7 342.3 891.1 336.8 890.2Z
M356.5 890 359.9 890.6 359 895.7 355.6 895.1Z
M302.9 900.4 307.8 898.6 309.6 903.5 304.7 905.3Z
M324 899.3 331.8 899.3 331.8 903.7 324 903.7Z
M343.5 901.3 344.8 901.3 344.8 902.6 343.5 902.6Z
M376.3 894.8 381.4 895.7 380 903.8 374.9 902.9Z
M303.2 908.4 310 912.3 307.2 917.1 300.4 913.2Z
M326 911.7 331.1 912.6 329.9 919.4 324.8 918.5Z
M343.6 913.3 347.8 914 346.9 919.1 342.7 918.4Z
M335.9 911.2 337.2 911.2 337.2 913.8 335.9 913.8Z
M364.2 906.1 368.9 906.5 368.3 914.2 363.5 913.8Z
M587.9 16.8 592.2 18.8 589.6 24.3 585.3 22.3Z
M577.4 25.8 578.9 26.7 576.7 30.4 575.2 29.6Z
M579 30.8 583.3 32.9 581.1 37.6 576.8 35.5Z
M598.2 24.6 600.7 25.5 599.2 29.5 596.7 28.6Z
M594.2 34.8 598.9 37 597.6 39.7 592.9 37.5Z
M570.7 40.8 574.2 42.5 571.3 48.8 567.8 47.1Z
M576.4 43.1 579.1 44.4 578.6 45.6 575.8 44.3Z
M589.8 42.5 594.9 44.9 593.3 48.4 588.2 46Z
M586.2 48.6 591.3 50.9 589.6 54.5 584.5 52.1Z
M583.3 56.4 587.6 58.4 585.6 62.7 581.3 60.7Z
M594.4 58.1 599 59.4 597.4 65.2 592.8 64Z
M538.7 45.9 543 43.9 543.6 45 539.2 47Z
M546.8 51 551.9 53.4 549.7 58.1 544.6 55.7Z
M541.1 56.1 543.7 56.1 543.7 58.7 541.1 58.7Z
M593.1 78.4 598.7 78.4 598.7 86.6 593.1 86.6Z
M577 87.4 583.9 84.8 585.8 90.1 578.9 92.6Z
M560.9 94.8 568.2 97.4 566 103.5 558.6 100.9Z
M585 101.3 590.2 101.8 589.4 110.8 584.2 110.4Z
M547.8 84 553.5 86.1 550.9 93.4 545.2 91.4Z
M544.6 93.7 548.9 93.7 548.9 95.5 544.6 95.5Z
M403.6 41.9 407.7 43.4 407.2 44.6 403.2 43.2Z
M427.1 42.2 432.5 42.2 432.5 45.9 427.1 45.9Z
M453.7 43.9 460.2 43.9 460.2 48.3 453.7 48.3Z
M419 48.1 424.2 48.1 424.2 50.6 419 50.6Z
M401.1 50.9 404.3 50.9 404.3 55.6 401.1 55.6Z
M408.7 51.3 415.6 51.3 415.6 55.8 408.7 55.8Z
M420.3 53.2 422.9 53.2 422.9 56.3 420.3 56.3Z
M425.5 51.9 429.2 51.9 429.2 56.7 425.5 56.7Z
M435.7 56.3 438.7 56.3 438.7 58.4 435.7 58.4Z
M447.2 54.1 451.3 54.1 451.3 60 447.2 60Z
M460.6 57.4 464.5 57.4 464.5 63.2 460.6 63.2Z
M464.5 56.5 467.5 56.5 467.5 58.2 464.5 58.2Z
M468 61.3 470.6 61.3 470.6 64.3 468 64.3Z
M475.3 62.1 479.7 62.1 479.7 66.5 475.3 66.5Z
M486.8 64 491 62.9 491.5 65 487.4 66.1Z
M500.6 58.4 504.3 58.4 504.3 66 500.6 66Z
M507.1 60.6 513.6 60.6 513.6 64.5 507.1 64.5Z
M518.6 60.2 524.5 60.2 524.5 64.3 518.6 64.3Z
M527.7 60.6 531 60.6 531 64.3 527.7 64.3Z
M400 68.2 405.4 68.2 405.4 71.4 400 71.4Z
M417.3 66 422.7 66 422.7 70.3 417.3 70.3Z
M456.3 70.3 462.3 70.3 462.3 75.3 456.3 75.3Z
M474.5 75.5 478.2 74.5 479.2 78.2 475.5 79.2Z
M528.4 69.5 530.1 69.5 530.1 71.2 528.4 71.2Z
M536.4 69.3 543.9 69.3 543.9 73.6 536.4 73.6Z
M543.1 74.4 548.8 76.5 547.8 79.3 542.1 77.2Z
M514.7 81.2 521.6 81.2 521.6 85.5 514.7 85.5Z
M399.8 79.7 412.8 78.6 413.1 82.7 400.2 83.8Z
M412 78.2 427.1 79 426.9 82.9 411.8 82.1Z
M430.3 74.7 437.9 74.7 437.9 80.1 430.3 80.1Z
M435.7 79 440 79 440 81.2 435.7 81.2Z
M442.2 80.1 446.5 80.1 446.5 84.4 442.2 84.4Z
M447.6 79 451.5 79 451.5 83.3 447.6 83.3Z
M452.2 83.3 455.2 83.3 455.2 86.4 452.2 86.4Z
M456.3 82.7 460.6 82.7 460.6 85.3 456.3 85.3Z
M462.3 81.2 464.9 81.2 464.9 87.7 462.3 87.7Z
M470.3 86.6 476.8 86.6 476.8 90.3 470.3 90.3Z
M482.7 86.6 487 86.6 487 91.3 482.7 91.3Z
M489.2 86.8 492.6 86.8 492.6 88.5 489.2 88.5Z
M496.3 87.7 499.6 87.7 499.6 93.5 496.3 93.5Z
M508.2 91.3 522.3 91.3 522.3 95.2 508.2 95.2Z
M526.6 89.2 529.9 89.2 529.9 95.9 526.6 95.9Z
M533.1 92 538.5 92 538.5 96.3 533.1 96.3Z
M422.7 88.3 433.5 88.3 433.5 90.9 422.7 90.9Z
M426 92 437.9 92 437.9 96.3 426 96.3Z
M428.6 98.5 435.7 98.5 435.7 101.7 428.6 101.7Z
M417 96.5 423.5 97.1 422 114.3 415.5 113.8Z
M407.7 114.4 414.6 115 413.9 123.7 407 123.1Z
M440 97.8 444.4 97.8 444.4 103.5 440 103.5Z
M447.6 98.9 452.4 98.9 452.4 103.5 447.6 103.5Z
M454.1 99.6 459.5 99.6 459.5 103.5 454.1 103.5Z
M460.6 100 464.9 100 464.9 103.9 460.6 103.9Z
M467.1 101.3 472.5 101.3 472.5 105.6 467.1 105.6Z
M461.9 105.6 465.8 105.6 465.8 109.5 461.9 109.5Z
M445.7 106.7 447.4 106.7 447.4 109.7 445.7 109.7Z
M438.1 109.3 439.8 109.3 439.8 111.5 438.1 111.5Z
M455.2 110.8 457.4 110.8 457.4 113.4 455.2 113.4Z
M482.7 102.8 487.7 102.8 487.7 105 482.7 105Z
M486.6 106.1 489.6 106.1 489.6 113 486.6 113Z
M493.1 106.5 497.4 106.5 497.4 112.1 493.1 112.1Z
M501.3 106.5 505.6 106.5 505.6 112.1 501.3 112.1Z
M513.6 105.6 519 105.6 519 109.3 513.6 109.3Z
M471.4 162.4 478.6 163.7 478 167.5 470.7 166.2Z
M454.2 183.3 461.7 185.3 460.5 189.9 453 187.9Z
M477.3 193.9 480.7 193.9 480.7 195.7 477.3 195.7Z
M482 166.2 483.8 166.2 483.8 168 482 168Z
M498.5 118.8 500.6 118.8 500.6 120.6 498.5 120.6Z
M480.1 204.2 493.1 207.6 492.2 211 479.2 207.5Z
M488.7 208.7 492.4 209.7 491 215.1 487.2 214.1Z
M400 318 408.2 318 408.2 320.3 400 320.3Z
M406.1 380.1 408.9 381.3 403.4 393.1 400.6 391.8Z
M402.7 384.6 430.2 397.4 427.6 402.9 400.1 390.1Z
M471.7 350.4 476 348.4 482 361.3 477.7 363.3Z
M474.7 362.8 480 359.1 482 361.9 476.7 365.6Z
M481.2 342.2 482.5 342.2 482.5 343.5 481.2 343.5Z
M488.2 341.7 493.6 343.2 492.8 346.1 487.4 344.7Z
M495.6 344.7 500.2 345.9 499.2 349.7 494.6 348.5Z
M501.9 347.3 508.1 349 507.2 352.3 501 350.6Z
M511.9 348 514.9 348.8 513.2 355 510.3 354.3Z
M516 354.3 517.7 354.3 517.7 357.4 516 357.4Z
M530.1 351.7 531.8 351.7 531.8 353.5 530.1 353.5Z
M486 358.5 490.9 355.7 492.4 358.3 487.5 361.2Z
M524.7 356.8 528.2 358.5 525.5 364.4 522 362.7Z
M528.8 356.9 531 356.9 531 359.1 528.8 359.1Z
M533.4 358.9 537.8 360.5 535.9 365.8 531.4 364.2Z
M509.3 361.8 518.6 367.3 516.7 370.6 507.3 365.2Z
M492.8 368.5 496.2 366.5 497.7 369.2 494.3 371.1Z
M486.6 372.1 491.1 369.5 493.1 372.9 488.6 375.5Z
M502.4 373.1 509.1 369.3 510.6 371.9 503.9 375.8Z
M522.9 370.2 529 372.5 527.3 376.9 521.2 374.7Z
M519.3 371.2 521 371.2 521 372.9 519.3 372.9Z
M520.6 376.6 524 376.6 524 379.2 520.6 379.2Z
M511.1 375.9 515.7 377.1 514 383.4 509.4 382.2Z
M503.1 384.8 508.4 381.8 511.2 386.6 505.9 389.7Z
M497.6 387 499.4 387 499.4 388.7 497.6 388.7Z
M494.4 389.6 496.1 389.6 496.1 391.3 494.4 391.3Z
M482.8 391.7 488 388.6 490.4 392.8 485.1 395.8Z
M489.2 397.7 495.9 393.8 497.9 397.1 491.1 401Z
M529.8 381.2 534.9 378.9 538.6 386.7 533.5 389.1Z
M537.7 379.8 542.4 377.6 543.7 380.4 539 382.6Z
M536.1 388.2 540 386.4 540.9 388.4 537 390.2Z
M544.3 377.8 547.8 376.2 549.3 379.3 545.7 381Z
M543.9 384.4 545.2 384.4 545.2 387 543.9 387Z
M523.6 388.4 527.3 386.2 529.7 390.4 525.9 392.5Z
M517.5 392.7 521.2 393.7 519.8 399.1 516 398.1Z
M511.7 397.2 513.4 397.2 513.4 398.9 511.7 398.9Z
M530.7 396 543.5 388.7 546.3 393.6 533.6 400.9Z
M419.4 599.3 424.5 600.2 423.9 604 418.7 603.1Z
M477 600.2 481.6 601 481 604.4 476.4 603.6Z
M490.1 604.3 496.2 606.6 494.7 610.6 488.6 608.4Z
M477.9 607.9 483.1 608.8 482.2 613.5 477.1 612.6Z
M463.4 612.6 469.4 611.5 469.9 614.5 463.9 615.6Z
M463.2 613.5 464.9 613.5 464.9 620 463.2 620Z
M435.9 617.2 442 617.2 442 623.7 435.9 623.7Z
M516.8 605.2 523.1 603.5 524.3 608.1 518 609.8Z
M540.3 600.3 542 600.3 542 602.1 540.3 602.1Z
M525.6 619.8 528.3 618.3 528.9 619.4 526.3 620.9Z
M492.9 655.5 498.3 654 499.8 659.5 494.3 660.9Z
M401.7 771.5 407.1 773 406.1 776.8 400.7 775.3Z
M614.8 16 618.7 17.8 616.4 22.9 612.4 21.1Z
M621.1 19.4 622.1 19.9 620.8 22.6 619.9 22.1Z
M627.6 13 631.3 11.9 633 18.2 629.3 19.2Z
M627.1 25.8 629.6 26.7 629.1 27.9 626.7 27Z
M642.2 15.4 647.9 13.3 650.9 21.4 645.2 23.5Z
M602 23.3 607.6 26.5 605.8 29.5 600.2 26.3Z
M611.3 37.2 612.6 37.2 612.6 38.5 611.3 38.5Z
M603.4 41.1 608.1 43.3 606.1 47.6 601.4 45.4Z
M607.4 50.5 611.7 52.5 609.9 56.4 605.6 54.4Z
M625.5 45.1 627.2 45.7 625.5 50.2 623.9 49.6Z
M623.4 53.6 624.4 54 623.4 56.8 622.3 56.4Z
M641.5 34.3 645 36 642.1 42.3 638.5 40.6Z
M634.1 44.4 640.6 46.7 639.5 50 632.9 47.6Z
M602.9 62 606.2 62.9 604.9 67.9 601.6 67Z
M609.4 61.7 613.2 62.7 611.4 69.4 607.6 68.4Z
M616.2 61.5 621.2 62.9 619.7 68.3 614.7 67Z
M602 58.5 603 58.9 602.4 60.5 601.4 60.2Z
M631.9 65.9 633.5 66.6 631.7 70.5 630.1 69.8Z
M624.2 71.3 628.3 72.7 626.8 76.8 622.8 75.3Z
M617.1 88.7 618.8 88.7 618.8 89.6 617.1 89.6Z
M739.1 164.1 743.9 165.9 743.2 167.9 738.3 166.1Z
M727.9 176 731.5 178.5 730.5 179.9 727 177.4Z
M663.6 222.9 666.9 224.9 666.3 226 662.9 224Z
M673.3 230.7 678.2 233.5 676 237.3 671.2 234.5Z
M681.9 238.6 684.2 237.5 686.1 241.5 683.7 242.6Z
M638.1 238 643.6 237 644.2 240 638.6 240.9Z
M674.4 247.2 681.9 251.5 680.2 254.5 672.7 250.2Z
M660.7 256.6 665.3 257.9 663.5 264.6 658.9 263.3Z
M655 263.2 659.1 264.7 658.4 266.7 654.3 265.2Z
M675.1 265.6 678.4 266.5 677.3 270.7 674 269.8Z
M673.5 274.4 676.9 275 675.8 281.4 672.4 280.8Z
M669.3 282 674.8 283.5 673.5 288.1 668.1 286.6Z
M650.2 287.3 654.9 288.1 653.7 295.4 649 294.6Z
M688.1 297 699.1 287.8 700.2 289.1 689.2 298.3Z
M689.5 305.3 702.4 293.7 705.3 296.9 692.4 308.5Z
M669.1 314.3 679.1 306 680.2 307.3 670.3 315.7Z
M671.8 320.1 684 309.8 686.3 312.4 674 322.7Z
M674.5 321.5 683.1 330 680 333.1 671.5 324.5Z
M745 262.1 749.4 262.1 749.4 267.1 745 267.1Z
M750.4 262.8 753.7 262.8 753.7 267.1 750.4 267.1Z
M763.9 265.6 768.4 265.6 768.4 269.9 763.9 269.9Z
M774.7 262.8 779.2 262.8 779.2 269.7 774.7 269.7Z
M790.9 265.6 798.7 265.6 798.7 270.3 790.9 270.3Z
M729.1 270.1 744.5 275.7 742.8 280.6 727.3 275Z
M708.6 275.7 722.3 282.2 720.9 285.3 707.1 278.9Z
M725.7 284.7 739.7 290.4 738.4 293.6 724.4 287.9Z
M744.9 287.4 755 291.1 753.8 294.4 743.7 290.7Z
M757.9 289.2 761.8 289.6 761.1 296.9 757.3 296.6Z
M768.9 289.3 773.2 290 772.2 295.6 767.9 294.8Z
M777.7 289.5 781.9 290.3 780.8 296.6 776.5 295.9Z
M786.5 292.4 792.1 293.4 791.4 297.2 785.9 296.2Z
M795.9 292.6 800 292.6 800 297.4 795.9 297.4Z
M786.6 283.3 792.6 283.3 792.6 285.9 786.6 285.9Z
M716.2 301 721.1 298.2 722.8 301.2 717.9 304Z
M710.6 309.9 715.3 304.3 718 306.5 713.2 312.2Z
M704.7 320 708.9 314 711.8 315.9 707.5 322Z
M727.5 302.6 733.9 307.1 732.2 309.5 725.8 305.1Z
M733.2 311.7 741.3 317.4 739.6 319.9 731.4 314.2Z
M742.7 319.2 749.1 330.4 746.5 331.9 740 320.7Z
M716.6 321.6 721.6 327.6 719.3 329.5 714.3 323.5Z
M723 328.7 725.9 333 723.8 334.5 720.8 330.2Z
M727.1 337.2 728.8 337.2 728.8 339.4 727.1 339.4Z
M753.8 308.6 757.7 308.3 758.7 319.5 754.8 319.8Z
M761 320.8 764.8 320.4 765.9 332.5 762 332.8Z
M767.1 308.2 771 308.2 771 312.6 767.1 312.6Z
M773.8 307.8 777.9 307.8 777.9 314.1 773.8 314.1Z
M784.4 306.7 788.7 306.7 788.7 312.1 784.4 312.1Z
M792.6 307.6 797 307.6 797 313.2 792.6 313.2Z
M791.1 316.9 795.5 316.9 795.5 321.6 791.1 321.6Z
M782.9 320.7 787.1 321.8 785.9 326 781.8 324.9Z
M778.6 327.6 782.1 327.9 781.5 334.3 778.1 334Z
M763.4 337.9 769.3 337.9 769.3 341.6 763.4 341.6Z
M773.6 337.4 780.7 337.4 780.7 341.8 773.6 341.8Z
M791.6 336.8 800 336.8 800 340.3 791.6 340.3Z
M695.3 328.3 699.6 331.9 697.4 334.5 693.1 330.9Z
M700.6 333.1 705.6 337.2 702.8 340.5 697.9 336.4Z
M704.9 341.9 709.4 337.3 711.6 339.5 707 344.1Z
M683.3 336.8 688.6 334.9 689.8 338.1 684.5 340Z
M675.8 338.7 680.1 338.7 680.1 340.5 675.8 340.5Z
M664.6 340 670.2 341 669.6 344.4 664 343.4Z
M677.3 345.3 682.4 346.2 681.5 351.3 676.4 350.4Z
M691.3 346.8 694.7 347.1 694 354.9 690.6 354.6Z
M700.5 349.7 704.4 349 705.1 353.3 701.3 354Z
M708.4 348.4 712.3 347.8 713.2 353.3 709.4 354Z
M716.2 346.3 720 345.6 721 351.1 717.2 351.8Z
M714.9 343.1 716.7 343.1 716.7 344.8 714.9 344.8Z
M729.9 341.1 735.3 341.1 735.3 346.1 729.9 346.1Z
M740.5 344 753.4 342.2 753.8 345.2 741 347Z
M702.5 364.9 706.3 364.2 707.5 370.6 703.6 371.3Z
M717.3 366 722.9 366 722.9 369.5 717.3 369.5Z
M730.5 364.5 737.4 364.5 737.4 368.8 730.5 368.8Z
M740.3 359.1 744.6 359.1 744.6 364.7 740.3 364.7Z
M746.4 362 752.8 363.2 751.5 370.4 745.1 369.3Z
M753.7 357.7 757.2 358 756.7 364 753.2 363.7Z
M760 357.4 764.3 357.8 763.8 362.9 759.5 362.6Z
M766.2 357.6 770.9 358 770.6 361.9 765.9 361.5Z
M771.8 357 779.2 357.7 778.8 362 771.5 361.4Z
M738.7 378.8 741.8 378.8 741.8 379.7 738.7 379.7Z
M747.6 377.9 748.9 377.9 748.9 379.2 747.6 379.2Z
M765.4 377.5 766.7 377.5 766.7 378.8 765.4 378.8Z
M550.3 540.3 552.8 540.7 551.9 546.3 549.3 545.8Z
M556.9 539.8 562 540.7 561.3 544.6 556.2 543.7Z
M592.3 558.1 610.9 559.7 610.7 561.4 592.2 559.8Z
M619.6 559.5 630.1 556.7 631 560 620.5 562.8Z
M563.9 575.9 568.1 576.6 567.3 581.3 563 580.5Z
M571.9 573.4 576.6 573.4 576.6 578.1 571.9 578.1Z
M577.7 578.6 585.1 578.6 585.1 580.7 577.7 580.7Z
M577.7 579.7 579.4 579.7 579.4 583.5 577.7 583.5Z
M597.2 575.7 600.5 578.5 598 581.5 594.7 578.7Z
M554.1 585.3 561.6 583.2 562.4 586.2 554.9 588.2Z
M559.3 581.8 561.5 581.8 561.5 586.1 559.3 586.1Z
M565.6 588.1 569 588.1 569 592.9 565.6 592.9Z
M803.6 266 811.2 266 811.2 270.3 803.6 270.3Z
M816.2 268.2 819 269.2 817.8 272.5 815 271.5Z
M819.6 272.7 821.3 272.7 821.3 274.9 819.6 274.9Z
M840 263.9 845.2 263.9 845.2 268.2 840 268.2Z
M842.6 271.4 845.6 271.4 845.6 274.7 842.6 274.7Z
M809.2 284.8 811 284.8 811 286.1 809.2 286.1Z
M819.2 285.1 824.8 285.1 824.8 288.7 819.2 288.7Z
M835.6 284.4 839.5 284.4 839.5 290.9 835.6 290.9Z
M846.9 285.9 852.5 285.9 852.5 288.7 846.9 288.7Z
M859.4 284.4 867.7 284.4 867.7 287.7 859.4 287.7Z
M873.3 285.7 879.7 284.5 880.2 287.5 873.8 288.6Z
M804.2 294.8 807.6 294.5 808.2 300.9 804.7 301.2Z
M812 292.8 815.8 292.1 816.8 297.7 813 298.3Z
M824.4 294.2 830.7 292.5 831.7 296.3 825.4 298Z
M858.4 294.8 862.7 294.8 862.7 298.7 858.4 298.7Z
M810.1 308.9 816.6 308.9 816.6 313 810.1 313Z
M811.8 316.9 817.7 316.9 817.7 319.9 811.8 319.9Z
M824.6 313.6 825.9 313.6 825.9 314.9 824.6 314.9Z
M806.8 323.8 812.3 323.8 812.3 328.8 806.8 328.8Z
M822.8 326.4 828.7 324.8 829.8 329 824 330.6Z
M832.6 324.9 837.7 324 838.3 327.4 833.2 328.3Z
M838.7 303.9 842.1 303.9 842.1 326.6 838.7 326.6Z
M838.7 323.4 851.6 323.4 851.6 327.1 838.7 327.1Z
M859 306.1 863.7 306.9 862.9 311.6 858.2 310.8Z
M857.5 315.4 858.8 315.4 858.8 318.4 857.5 318.4Z
M859.9 323.2 862.9 323.2 862.9 325.8 859.9 325.8Z
M853.4 327.2 855.6 327 856.3 335.6 854.2 335.8Z
M868.1 304.2 871.5 303.6 872.4 308.8 869 309.4Z
M875.2 298.7 879.4 297.9 880.5 303.9 876.2 304.7Z
M884.2 301.8 889.8 300.8 890.5 305.1 885 306.1Z
M887 293.2 890.7 292.2 892.1 297.2 888.3 298.3Z
M893.8 287.9 897 289.1 895.2 293.9 892 292.8Z
M876.3 312.6 880.4 311.5 882.4 319 878.3 320.1Z
M869.1 322.5 873.3 321.4 874.4 325.6 870.2 326.7Z
M807.7 336.1 818.1 333.3 819 336.6 808.6 339.4Z
M800.1 336.8 803.2 336.8 803.2 340.3 800.1 340.3Z
M803.3 348.9 817.6 348.1 817.7 349.8 803.4 350.6Z
M858.9 342 864.9 341.5 865.2 345 859.2 345.5Z
M874.4 345 879.1 345 879.1 363.4 874.4 363.4Z
M848.9 358.7 856.3 359.1 855.7 371.2 848.3 370.8Z
M853.4 371 854.7 371 854.7 374.2 853.4 374.2Z
M895.6 317.3 902.1 317.3 902.1 321.6 895.6 321.6Z
M908.1 316.2 911.8 316.2 911.8 322.3 908.1 322.3Z
M892.3 259.5 896.2 259.5 896.2 260.8 892.3 260.8Z
M912.2 256.5 921.7 255.7 922.2 261.3 912.7 262.1Z
M914.6 268.2 923.7 267.4 924.1 272.5 915.1 273.3Z
M889.3 270.4 894 271.2 893.2 275.9 888.5 275.1Z
M900 269.5 903 270 902 275.5 899 275Z
M898 266.9 899.7 266.9 899.7 268.6 898 268.6Z
M905.8 271.4 909.2 271.4 909.2 275.8 905.8 275.8Z
M893.4 349.4 903.2 349.4 903.2 359.7 893.4 359.7Z
M903.2 352.6 910.7 352.6 910.7 360.2 903.2 360.2Z
M909.7 351.5 930 351.5 930 361.3 909.7 361.3Z
M904.2 360.2 910.7 360.2 910.7 367.7 904.2 367.7Z
M895.6 366.2 916.6 366.2 916.6 369.3 895.6 369.3Z
M885.4 395.5 904.9 395.5 904.9 400 885.4 400Z
M885.4 395.2 904.9 395.2 905.3 404.8 911.4 405.4 911.8 408.7 908.6 409.7 886.3 412.6Z"/>
</svg></body></html>
